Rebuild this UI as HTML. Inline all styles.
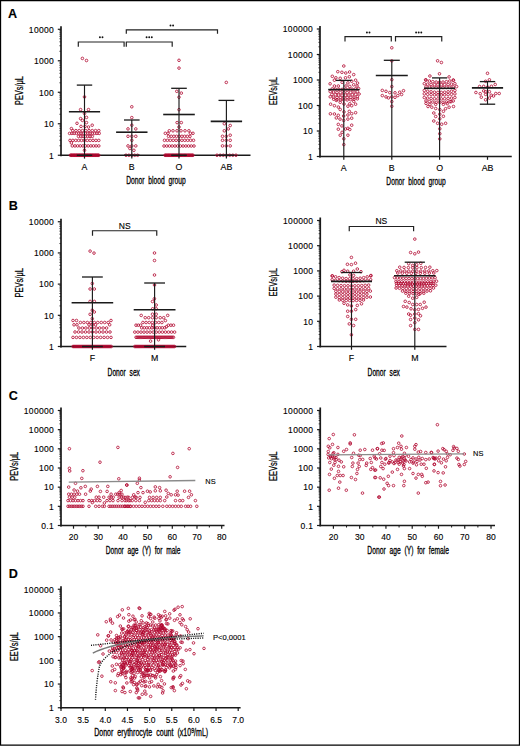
<!DOCTYPE html>
<html><head><meta charset="utf-8"><title>Figure</title>
<style>
html,body{margin:0;padding:0;background:#fff}
body{width:520px;height:746px;overflow:hidden;position:relative}
svg{position:absolute;left:0;top:0;display:block}
text{font-family:"Liberation Sans",sans-serif;fill:#000;stroke:#000;stroke-width:0.12}
.t{stroke:#000;stroke-width:0.3}
.t2{stroke:#000;stroke-width:0.25}
</style></head><body>
<svg width="520" height="746" viewBox="0 0 520 746">
<rect x="0" y="0" width="520" height="746" fill="#fff"/>
<g><line x1="61" y1="26.29" x2="61" y2="156.15" stroke="#1a1a1a" stroke-width="1.7"/><line x1="60.2" y1="155.25" x2="250.5" y2="155.25" stroke="#1a1a1a" stroke-width="1.7"/><line x1="320" y1="26" x2="320" y2="157.4" stroke="#1a1a1a" stroke-width="1.7"/><line x1="319.2" y1="156.5" x2="511.75" y2="156.5" stroke="#1a1a1a" stroke-width="1.7"/><line x1="61" y1="218.74" x2="61" y2="347.4" stroke="#1a1a1a" stroke-width="1.7"/><line x1="60.2" y1="346.5" x2="186.25" y2="346.5" stroke="#1a1a1a" stroke-width="1.7"/><line x1="320.25" y1="217.5" x2="320.25" y2="347.4" stroke="#1a1a1a" stroke-width="1.7"/><line x1="319.45" y1="346.5" x2="446.5" y2="346.5" stroke="#1a1a1a" stroke-width="1.7"/><line x1="61" y1="407.48" x2="61" y2="526.4" stroke="#1a1a1a" stroke-width="1.7"/><line x1="60.2" y1="525.5" x2="224.5" y2="525.5" stroke="#1a1a1a" stroke-width="1.7"/><line x1="320.25" y1="407.48" x2="320.25" y2="526.4" stroke="#1a1a1a" stroke-width="1.7"/><line x1="319.45" y1="525.5" x2="495" y2="525.5" stroke="#1a1a1a" stroke-width="1.7"/><line x1="61" y1="586.25" x2="61" y2="708.65" stroke="#1a1a1a" stroke-width="1.7"/><line x1="60.2" y1="707.75" x2="240.6" y2="707.75" stroke="#1a1a1a" stroke-width="1.7"/></g>
<g fill="none" stroke="#b0062e" stroke-width="0.8"><circle cx="82.4" cy="58.4" r="1.3"/><circle cx="86.5" cy="60.5" r="1.3"/><circle cx="84.5" cy="96.9" r="1.3"/><circle cx="80.6" cy="109.6" r="1.3"/><circle cx="88.5" cy="109.6" r="1.3"/><circle cx="84.5" cy="113.4" r="1.3"/><circle cx="80.6" cy="118.6" r="1.3"/><circle cx="86.5" cy="117.4" r="1.3"/><circle cx="82.4" cy="120.4" r="1.3"/><circle cx="77" cy="123.3" r="1.3"/><circle cx="86.5" cy="122.6" r="1.3"/><circle cx="81" cy="126.4" r="1.3"/><circle cx="85" cy="126.4" r="1.3"/><circle cx="88.5" cy="127" r="1.3"/><circle cx="92.2" cy="125.2" r="1.3"/><circle cx="71.4" cy="128.6" r="1.3"/><circle cx="71.4" cy="142.9" r="1.3"/><circle cx="84.5" cy="150.3" r="1.3"/><circle cx="72.7" cy="130.6" r="1.3"/><circle cx="75.96" cy="130.6" r="1.3"/><circle cx="79.22" cy="130.6" r="1.3"/><circle cx="82.49" cy="130.6" r="1.3"/><circle cx="85.75" cy="130.6" r="1.3"/><circle cx="89.01" cy="130.6" r="1.3"/><circle cx="92.28" cy="130.6" r="1.3"/><circle cx="95.54" cy="130.6" r="1.3"/><circle cx="98.8" cy="130.6" r="1.3"/><circle cx="69.6" cy="133.4" r="1.3"/><circle cx="71.88" cy="133.4" r="1.3"/><circle cx="74.15" cy="133.4" r="1.3"/><circle cx="76.43" cy="133.4" r="1.3"/><circle cx="78.71" cy="133.4" r="1.3"/><circle cx="80.98" cy="133.4" r="1.3"/><circle cx="83.26" cy="133.4" r="1.3"/><circle cx="85.54" cy="133.4" r="1.3"/><circle cx="87.82" cy="133.4" r="1.3"/><circle cx="90.09" cy="133.4" r="1.3"/><circle cx="92.37" cy="133.4" r="1.3"/><circle cx="94.65" cy="133.4" r="1.3"/><circle cx="96.92" cy="133.4" r="1.3"/><circle cx="99.2" cy="133.4" r="1.3"/><circle cx="78.5" cy="136.4" r="1.3"/><circle cx="80.8" cy="136.4" r="1.3"/><circle cx="83.1" cy="136.4" r="1.3"/><circle cx="85.4" cy="136.4" r="1.3"/><circle cx="87.7" cy="136.4" r="1.3"/><circle cx="90" cy="136.4" r="1.3"/><circle cx="92.3" cy="136.4" r="1.3"/><circle cx="70" cy="140.4" r="1.3"/><circle cx="72.88" cy="140.4" r="1.3"/><circle cx="75.76" cy="140.4" r="1.3"/><circle cx="78.64" cy="140.4" r="1.3"/><circle cx="81.52" cy="140.4" r="1.3"/><circle cx="84.4" cy="140.4" r="1.3"/><circle cx="87.28" cy="140.4" r="1.3"/><circle cx="90.16" cy="140.4" r="1.3"/><circle cx="93.04" cy="140.4" r="1.3"/><circle cx="95.92" cy="140.4" r="1.3"/><circle cx="98.8" cy="140.4" r="1.3"/><circle cx="72.3" cy="145.9" r="1.3"/><circle cx="74.95" cy="145.9" r="1.3"/><circle cx="77.6" cy="145.9" r="1.3"/><circle cx="80.25" cy="145.9" r="1.3"/><circle cx="82.9" cy="145.9" r="1.3"/><circle cx="85.55" cy="145.9" r="1.3"/><circle cx="88.2" cy="145.9" r="1.3"/><circle cx="90.85" cy="145.9" r="1.3"/><circle cx="93.5" cy="145.9" r="1.3"/><circle cx="96.15" cy="145.9" r="1.3"/><circle cx="98.8" cy="145.9" r="1.3"/><circle cx="70.4" cy="155.25" r="1.3"/><circle cx="71.13" cy="155.25" r="1.3"/><circle cx="71.86" cy="155.25" r="1.3"/><circle cx="72.58" cy="155.25" r="1.3"/><circle cx="73.31" cy="155.25" r="1.3"/><circle cx="74.04" cy="155.25" r="1.3"/><circle cx="74.77" cy="155.25" r="1.3"/><circle cx="75.5" cy="155.25" r="1.3"/><circle cx="76.23" cy="155.25" r="1.3"/><circle cx="76.95" cy="155.25" r="1.3"/><circle cx="77.68" cy="155.25" r="1.3"/><circle cx="78.41" cy="155.25" r="1.3"/><circle cx="79.14" cy="155.25" r="1.3"/><circle cx="79.87" cy="155.25" r="1.3"/><circle cx="80.59" cy="155.25" r="1.3"/><circle cx="81.32" cy="155.25" r="1.3"/><circle cx="82.05" cy="155.25" r="1.3"/><circle cx="82.78" cy="155.25" r="1.3"/><circle cx="83.51" cy="155.25" r="1.3"/><circle cx="84.24" cy="155.25" r="1.3"/><circle cx="84.96" cy="155.25" r="1.3"/><circle cx="85.69" cy="155.25" r="1.3"/><circle cx="86.42" cy="155.25" r="1.3"/><circle cx="87.15" cy="155.25" r="1.3"/><circle cx="87.88" cy="155.25" r="1.3"/><circle cx="88.61" cy="155.25" r="1.3"/><circle cx="89.33" cy="155.25" r="1.3"/><circle cx="90.06" cy="155.25" r="1.3"/><circle cx="90.79" cy="155.25" r="1.3"/><circle cx="91.52" cy="155.25" r="1.3"/><circle cx="92.25" cy="155.25" r="1.3"/><circle cx="92.97" cy="155.25" r="1.3"/><circle cx="93.7" cy="155.25" r="1.3"/><circle cx="94.43" cy="155.25" r="1.3"/><circle cx="95.16" cy="155.25" r="1.3"/><circle cx="95.89" cy="155.25" r="1.3"/><circle cx="96.62" cy="155.25" r="1.3"/><circle cx="97.34" cy="155.25" r="1.3"/><circle cx="98.07" cy="155.25" r="1.3"/><circle cx="98.8" cy="155.25" r="1.3"/><circle cx="131.8" cy="106.8" r="1.3"/><circle cx="131.8" cy="117.6" r="1.3"/><circle cx="131.8" cy="125.2" r="1.3"/><circle cx="128" cy="128.9" r="1.3"/><circle cx="135.8" cy="128.9" r="1.3"/><circle cx="131.8" cy="140.3" r="1.3"/><circle cx="129.9" cy="148.5" r="1.3"/><circle cx="133.9" cy="150.3" r="1.3"/><circle cx="128" cy="136.3" r="1.3"/><circle cx="131.8" cy="136.3" r="1.3"/><circle cx="135.8" cy="136.3" r="1.3"/><circle cx="128" cy="145.9" r="1.3"/><circle cx="131.8" cy="145.9" r="1.3"/><circle cx="135.8" cy="145.9" r="1.3"/><circle cx="126" cy="155.25" r="1.3"/><circle cx="128.9" cy="155.25" r="1.3"/><circle cx="131.8" cy="155.25" r="1.3"/><circle cx="134.7" cy="155.25" r="1.3"/><circle cx="137.6" cy="155.25" r="1.3"/><circle cx="179" cy="60.3" r="1.3"/><circle cx="179" cy="68.1" r="1.3"/><circle cx="176.8" cy="91.3" r="1.3"/><circle cx="181.3" cy="93.1" r="1.3"/><circle cx="179" cy="97.2" r="1.3"/><circle cx="179" cy="109.7" r="1.3"/><circle cx="177.1" cy="122.6" r="1.3"/><circle cx="181.3" cy="122.6" r="1.3"/><circle cx="179" cy="127" r="1.3"/><circle cx="165.3" cy="133.3" r="1.3"/><circle cx="168" cy="133.3" r="1.3"/><circle cx="190.4" cy="133.3" r="1.3"/><circle cx="193" cy="133.3" r="1.3"/><circle cx="169.3" cy="130.8" r="1.3"/><circle cx="173" cy="130.8" r="1.3"/><circle cx="177" cy="130.8" r="1.3"/><circle cx="181" cy="130.8" r="1.3"/><circle cx="185" cy="130.8" r="1.3"/><circle cx="188.9" cy="130.8" r="1.3"/><circle cx="168.5" cy="136.3" r="1.3"/><circle cx="171.19" cy="136.3" r="1.3"/><circle cx="173.88" cy="136.3" r="1.3"/><circle cx="176.56" cy="136.3" r="1.3"/><circle cx="179.25" cy="136.3" r="1.3"/><circle cx="181.94" cy="136.3" r="1.3"/><circle cx="184.62" cy="136.3" r="1.3"/><circle cx="187.31" cy="136.3" r="1.3"/><circle cx="190" cy="136.3" r="1.3"/><circle cx="164.5" cy="140.3" r="1.3"/><circle cx="167.4" cy="140.3" r="1.3"/><circle cx="170.3" cy="140.3" r="1.3"/><circle cx="173.2" cy="140.3" r="1.3"/><circle cx="176.1" cy="140.3" r="1.3"/><circle cx="179" cy="140.3" r="1.3"/><circle cx="181.9" cy="140.3" r="1.3"/><circle cx="184.8" cy="140.3" r="1.3"/><circle cx="187.7" cy="140.3" r="1.3"/><circle cx="190.6" cy="140.3" r="1.3"/><circle cx="193.5" cy="140.3" r="1.3"/><circle cx="164" cy="146" r="1.3"/><circle cx="166.73" cy="146" r="1.3"/><circle cx="169.45" cy="146" r="1.3"/><circle cx="172.18" cy="146" r="1.3"/><circle cx="174.91" cy="146" r="1.3"/><circle cx="177.64" cy="146" r="1.3"/><circle cx="180.36" cy="146" r="1.3"/><circle cx="183.09" cy="146" r="1.3"/><circle cx="185.82" cy="146" r="1.3"/><circle cx="188.55" cy="146" r="1.3"/><circle cx="191.27" cy="146" r="1.3"/><circle cx="194" cy="146" r="1.3"/><circle cx="165" cy="155.25" r="1.3"/><circle cx="165.8" cy="155.25" r="1.3"/><circle cx="166.6" cy="155.25" r="1.3"/><circle cx="167.4" cy="155.25" r="1.3"/><circle cx="168.2" cy="155.25" r="1.3"/><circle cx="169" cy="155.25" r="1.3"/><circle cx="169.8" cy="155.25" r="1.3"/><circle cx="170.6" cy="155.25" r="1.3"/><circle cx="171.4" cy="155.25" r="1.3"/><circle cx="172.2" cy="155.25" r="1.3"/><circle cx="173" cy="155.25" r="1.3"/><circle cx="173.8" cy="155.25" r="1.3"/><circle cx="174.6" cy="155.25" r="1.3"/><circle cx="175.4" cy="155.25" r="1.3"/><circle cx="176.2" cy="155.25" r="1.3"/><circle cx="177" cy="155.25" r="1.3"/><circle cx="177.8" cy="155.25" r="1.3"/><circle cx="178.6" cy="155.25" r="1.3"/><circle cx="179.4" cy="155.25" r="1.3"/><circle cx="180.2" cy="155.25" r="1.3"/><circle cx="181" cy="155.25" r="1.3"/><circle cx="181.8" cy="155.25" r="1.3"/><circle cx="182.6" cy="155.25" r="1.3"/><circle cx="183.4" cy="155.25" r="1.3"/><circle cx="184.2" cy="155.25" r="1.3"/><circle cx="185" cy="155.25" r="1.3"/><circle cx="185.8" cy="155.25" r="1.3"/><circle cx="186.6" cy="155.25" r="1.3"/><circle cx="187.4" cy="155.25" r="1.3"/><circle cx="188.2" cy="155.25" r="1.3"/><circle cx="189" cy="155.25" r="1.3"/><circle cx="189.8" cy="155.25" r="1.3"/><circle cx="190.6" cy="155.25" r="1.3"/><circle cx="191.4" cy="155.25" r="1.3"/><circle cx="192.2" cy="155.25" r="1.3"/><circle cx="193" cy="155.25" r="1.3"/><circle cx="226.3" cy="82.4" r="1.3"/><circle cx="224.3" cy="123.7" r="1.3"/><circle cx="230.2" cy="125.5" r="1.3"/><circle cx="224.3" cy="130.8" r="1.3"/><circle cx="228.3" cy="128.9" r="1.3"/><circle cx="230.2" cy="135.2" r="1.3"/><circle cx="222.5" cy="136.3" r="1.3"/><circle cx="226.3" cy="136.3" r="1.3"/><circle cx="222.5" cy="140.3" r="1.3"/><circle cx="226.3" cy="140.3" r="1.3"/><circle cx="230.2" cy="140.3" r="1.3"/><circle cx="222.5" cy="145.9" r="1.3"/><circle cx="226.3" cy="145.9" r="1.3"/><circle cx="230.2" cy="145.9" r="1.3"/><circle cx="217" cy="155.25" r="1.3"/><circle cx="220.17" cy="155.25" r="1.3"/><circle cx="223.33" cy="155.25" r="1.3"/><circle cx="226.5" cy="155.25" r="1.3"/><circle cx="229.67" cy="155.25" r="1.3"/><circle cx="232.83" cy="155.25" r="1.3"/><circle cx="236" cy="155.25" r="1.3"/><circle cx="343.8" cy="66" r="1.3"/><circle cx="337.8" cy="71.7" r="1.3"/><circle cx="341.9" cy="72.3" r="1.3"/><circle cx="345.8" cy="73" r="1.3"/><circle cx="349.6" cy="72" r="1.3"/><circle cx="353.7" cy="74.6" r="1.3"/><circle cx="332.3" cy="76.3" r="1.3"/><circle cx="335.9" cy="77.8" r="1.3"/><circle cx="340.2" cy="78.3" r="1.3"/><circle cx="345.5" cy="77.8" r="1.3"/><circle cx="349.3" cy="76.8" r="1.3"/><circle cx="334.4" cy="80.2" r="1.3"/><circle cx="355.6" cy="80.2" r="1.3"/><circle cx="342.1" cy="82.3" r="1.3"/><circle cx="347.9" cy="82.9" r="1.3"/><circle cx="351.7" cy="81.2" r="1.3"/><circle cx="330.1" cy="83.8" r="1.3"/><circle cx="357.5" cy="83.1" r="1.3"/><circle cx="353.7" cy="84.8" r="1.3"/><circle cx="334.4" cy="86" r="1.3"/><circle cx="338.3" cy="86" r="1.3"/><circle cx="346" cy="86" r="1.3"/><circle cx="349.8" cy="86.4" r="1.3"/><circle cx="357" cy="86" r="1.3"/><circle cx="332.25" cy="88.89" r="1.3"/><circle cx="335.55" cy="89.14" r="1.3"/><circle cx="338.85" cy="89.31" r="1.3"/><circle cx="342.15" cy="89.39" r="1.3"/><circle cx="345.45" cy="89.39" r="1.3"/><circle cx="348.75" cy="89.31" r="1.3"/><circle cx="352.05" cy="89.14" r="1.3"/><circle cx="355.35" cy="88.89" r="1.3"/><circle cx="358.65" cy="88.6" r="1.3"/><circle cx="330.2" cy="91.61" r="1.3"/><circle cx="333.6" cy="92.05" r="1.3"/><circle cx="337" cy="92.35" r="1.3"/><circle cx="340.4" cy="92.54" r="1.3"/><circle cx="343.8" cy="92.6" r="1.3"/><circle cx="347.2" cy="92.54" r="1.3"/><circle cx="350.6" cy="92.35" r="1.3"/><circle cx="354" cy="92.05" r="1.3"/><circle cx="357.4" cy="91.61" r="1.3"/><circle cx="331.9" cy="94.39" r="1.3"/><circle cx="335.3" cy="94.79" r="1.3"/><circle cx="338.7" cy="95.05" r="1.3"/><circle cx="342.1" cy="95.18" r="1.3"/><circle cx="345.5" cy="95.18" r="1.3"/><circle cx="348.9" cy="95.05" r="1.3"/><circle cx="352.3" cy="94.79" r="1.3"/><circle cx="355.7" cy="94.39" r="1.3"/><circle cx="359.1" cy="94" r="1.3"/><circle cx="330.2" cy="96.81" r="1.3"/><circle cx="333.6" cy="97.25" r="1.3"/><circle cx="337" cy="97.55" r="1.3"/><circle cx="340.4" cy="97.74" r="1.3"/><circle cx="343.8" cy="97.8" r="1.3"/><circle cx="347.2" cy="97.74" r="1.3"/><circle cx="350.6" cy="97.55" r="1.3"/><circle cx="354" cy="97.25" r="1.3"/><circle cx="357.4" cy="96.81" r="1.3"/><circle cx="333.6" cy="99.2" r="1.3"/><circle cx="337" cy="99.64" r="1.3"/><circle cx="340.4" cy="99.91" r="1.3"/><circle cx="343.8" cy="100" r="1.3"/><circle cx="347.2" cy="99.91" r="1.3"/><circle cx="350.6" cy="99.64" r="1.3"/><circle cx="354" cy="99.2" r="1.3"/><circle cx="357.4" cy="98.8" r="1.3"/><circle cx="336.3" cy="100.4" r="1.3"/><circle cx="340.2" cy="102.3" r="1.3"/><circle cx="353.7" cy="101.3" r="1.3"/><circle cx="330.6" cy="104.2" r="1.3"/><circle cx="334.4" cy="105.7" r="1.3"/><circle cx="338.3" cy="107.1" r="1.3"/><circle cx="340.2" cy="109.5" r="1.3"/><circle cx="347.9" cy="106.2" r="1.3"/><circle cx="349.8" cy="103.8" r="1.3"/><circle cx="351.7" cy="105.7" r="1.3"/><circle cx="355.6" cy="104.2" r="1.3"/><circle cx="344" cy="111.9" r="1.3"/><circle cx="330.4" cy="113.8" r="1.3"/><circle cx="334.4" cy="114" r="1.3"/><circle cx="338.3" cy="115.3" r="1.3"/><circle cx="336.3" cy="117.9" r="1.3"/><circle cx="340" cy="119.1" r="1.3"/><circle cx="343.6" cy="116" r="1.3"/><circle cx="347.9" cy="115" r="1.3"/><circle cx="349.3" cy="111.4" r="1.3"/><circle cx="351.7" cy="113.7" r="1.3"/><circle cx="355.6" cy="112.7" r="1.3"/><circle cx="343.6" cy="120.4" r="1.3"/><circle cx="347.9" cy="119.1" r="1.3"/><circle cx="351.7" cy="118.2" r="1.3"/><circle cx="344" cy="104" r="1.3"/><circle cx="338.3" cy="124.4" r="1.3"/><circle cx="341.9" cy="125.9" r="1.3"/><circle cx="351.7" cy="125.2" r="1.3"/><circle cx="338.3" cy="129.2" r="1.3"/><circle cx="345.5" cy="129" r="1.3"/><circle cx="347.9" cy="128.3" r="1.3"/><circle cx="349.8" cy="129.5" r="1.3"/><circle cx="342.1" cy="132.3" r="1.3"/><circle cx="340.2" cy="135.2" r="1.3"/><circle cx="347.9" cy="135.2" r="1.3"/><circle cx="343.8" cy="138.8" r="1.3"/><circle cx="343.8" cy="144.6" r="1.3"/><circle cx="391.8" cy="47.8" r="1.3"/><circle cx="391.8" cy="60.9" r="1.3"/><circle cx="391.8" cy="79.7" r="1.3"/><circle cx="391.8" cy="86.6" r="1.3"/><circle cx="382.3" cy="90.4" r="1.3"/><circle cx="386" cy="91.3" r="1.3"/><circle cx="389.8" cy="92.6" r="1.3"/><circle cx="395" cy="92.8" r="1.3"/><circle cx="399.7" cy="92.2" r="1.3"/><circle cx="403.5" cy="90.7" r="1.3"/><circle cx="401.6" cy="94.5" r="1.3"/><circle cx="397.8" cy="95.6" r="1.3"/><circle cx="395" cy="97.3" r="1.3"/><circle cx="382.3" cy="95.6" r="1.3"/><circle cx="386" cy="96.9" r="1.3"/><circle cx="388.5" cy="97.9" r="1.3"/><circle cx="391.8" cy="96.9" r="1.3"/><circle cx="391.8" cy="101.6" r="1.3"/><circle cx="391.8" cy="106.3" r="1.3"/><circle cx="437.6" cy="60.8" r="1.3"/><circle cx="441.4" cy="62.5" r="1.3"/><circle cx="439.5" cy="73.8" r="1.3"/><circle cx="429.9" cy="76" r="1.3"/><circle cx="449.1" cy="76.9" r="1.3"/><circle cx="425.6" cy="79.8" r="1.3"/><circle cx="453.5" cy="80.3" r="1.3"/><circle cx="426" cy="80.06" r="1.3"/><circle cx="429.4" cy="81" r="1.3"/><circle cx="432.8" cy="81.67" r="1.3"/><circle cx="436.2" cy="82.07" r="1.3"/><circle cx="439.6" cy="82.2" r="1.3"/><circle cx="443" cy="82.07" r="1.3"/><circle cx="446.4" cy="81.67" r="1.3"/><circle cx="449.8" cy="81" r="1.3"/><circle cx="453.2" cy="80.06" r="1.3"/><circle cx="424.3" cy="83.7" r="1.3"/><circle cx="427.7" cy="84.14" r="1.3"/><circle cx="431.1" cy="84.46" r="1.3"/><circle cx="434.5" cy="84.68" r="1.3"/><circle cx="437.9" cy="84.79" r="1.3"/><circle cx="441.3" cy="84.79" r="1.3"/><circle cx="444.7" cy="84.68" r="1.3"/><circle cx="448.1" cy="84.46" r="1.3"/><circle cx="451.5" cy="84.14" r="1.3"/><circle cx="454.9" cy="83.7" r="1.3"/><circle cx="426" cy="86.88" r="1.3"/><circle cx="429.4" cy="87.19" r="1.3"/><circle cx="432.8" cy="87.42" r="1.3"/><circle cx="436.2" cy="87.55" r="1.3"/><circle cx="439.6" cy="87.6" r="1.3"/><circle cx="443" cy="87.55" r="1.3"/><circle cx="446.4" cy="87.42" r="1.3"/><circle cx="449.8" cy="87.19" r="1.3"/><circle cx="453.2" cy="86.88" r="1.3"/><circle cx="456.6" cy="86.6" r="1.3"/><circle cx="424.3" cy="90.45" r="1.3"/><circle cx="427.7" cy="91.22" r="1.3"/><circle cx="431.1" cy="91.8" r="1.3"/><circle cx="434.5" cy="92.18" r="1.3"/><circle cx="437.9" cy="92.38" r="1.3"/><circle cx="441.3" cy="92.38" r="1.3"/><circle cx="444.7" cy="92.18" r="1.3"/><circle cx="448.1" cy="91.8" r="1.3"/><circle cx="451.5" cy="91.22" r="1.3"/><circle cx="454.9" cy="90.45" r="1.3"/><circle cx="424.3" cy="93.83" r="1.3"/><circle cx="427.7" cy="94.29" r="1.3"/><circle cx="431.1" cy="94.64" r="1.3"/><circle cx="434.5" cy="94.87" r="1.3"/><circle cx="437.9" cy="94.99" r="1.3"/><circle cx="441.3" cy="94.99" r="1.3"/><circle cx="444.7" cy="94.87" r="1.3"/><circle cx="448.1" cy="94.64" r="1.3"/><circle cx="451.5" cy="94.29" r="1.3"/><circle cx="454.9" cy="93.83" r="1.3"/><circle cx="424.3" cy="97.53" r="1.3"/><circle cx="427.7" cy="98.07" r="1.3"/><circle cx="431.1" cy="98.48" r="1.3"/><circle cx="434.5" cy="98.75" r="1.3"/><circle cx="437.9" cy="98.88" r="1.3"/><circle cx="441.3" cy="98.88" r="1.3"/><circle cx="444.7" cy="98.75" r="1.3"/><circle cx="448.1" cy="98.48" r="1.3"/><circle cx="451.5" cy="98.07" r="1.3"/><circle cx="454.9" cy="97.53" r="1.3"/><circle cx="426" cy="100.98" r="1.3"/><circle cx="429.4" cy="101.6" r="1.3"/><circle cx="432.8" cy="102.05" r="1.3"/><circle cx="436.2" cy="102.31" r="1.3"/><circle cx="439.6" cy="102.4" r="1.3"/><circle cx="443" cy="102.31" r="1.3"/><circle cx="446.4" cy="102.05" r="1.3"/><circle cx="449.8" cy="101.6" r="1.3"/><circle cx="453.2" cy="100.98" r="1.3"/><circle cx="426" cy="103.4" r="1.3"/><circle cx="429.9" cy="104.3" r="1.3"/><circle cx="428" cy="106.5" r="1.3"/><circle cx="431.8" cy="107.2" r="1.3"/><circle cx="435.7" cy="104.3" r="1.3"/><circle cx="435.7" cy="108.5" r="1.3"/><circle cx="443.4" cy="104.3" r="1.3"/><circle cx="447.2" cy="103.7" r="1.3"/><circle cx="451" cy="101.7" r="1.3"/><circle cx="453.5" cy="106.5" r="1.3"/><circle cx="449.1" cy="107.2" r="1.3"/><circle cx="445.6" cy="108.7" r="1.3"/><circle cx="443.4" cy="111.3" r="1.3"/><circle cx="439.8" cy="109.6" r="1.3"/><circle cx="433.8" cy="113" r="1.3"/><circle cx="435.7" cy="116.5" r="1.3"/><circle cx="439.8" cy="114.2" r="1.3"/><circle cx="443.4" cy="116.3" r="1.3"/><circle cx="439.8" cy="118.8" r="1.3"/><circle cx="433.8" cy="121" r="1.3"/><circle cx="437.6" cy="123.3" r="1.3"/><circle cx="441.7" cy="124.2" r="1.3"/><circle cx="445.6" cy="123.3" r="1.3"/><circle cx="439.8" cy="128.8" r="1.3"/><circle cx="439.8" cy="133.7" r="1.3"/><circle cx="439.8" cy="138.9" r="1.3"/><circle cx="487.5" cy="73.3" r="1.3"/><circle cx="489.4" cy="79.8" r="1.3"/><circle cx="485.6" cy="81.3" r="1.3"/><circle cx="495.2" cy="84.5" r="1.3"/><circle cx="479.6" cy="86.5" r="1.3"/><circle cx="483.7" cy="86.3" r="1.3"/><circle cx="487.7" cy="87.1" r="1.3"/><circle cx="491.4" cy="86.3" r="1.3"/><circle cx="483.7" cy="90.9" r="1.3"/><circle cx="485.6" cy="91.7" r="1.3"/><circle cx="489.4" cy="91.7" r="1.3"/><circle cx="475.9" cy="92.5" r="1.3"/><circle cx="480.2" cy="93.7" r="1.3"/><circle cx="485.6" cy="94.4" r="1.3"/><circle cx="491.2" cy="95.2" r="1.3"/><circle cx="493.5" cy="96" r="1.3"/><circle cx="495.8" cy="93.5" r="1.3"/><circle cx="499.2" cy="93.5" r="1.3"/><circle cx="481.3" cy="97.2" r="1.3"/><circle cx="489.4" cy="98.1" r="1.3"/><circle cx="485.6" cy="99.8" r="1.3"/><circle cx="90.1" cy="251.1" r="1.3"/><circle cx="94" cy="253.1" r="1.3"/><circle cx="92.3" cy="283.5" r="1.3"/><circle cx="90.1" cy="289" r="1.3"/><circle cx="94.3" cy="289" r="1.3"/><circle cx="90.1" cy="301.4" r="1.3"/><circle cx="94.3" cy="301.4" r="1.3"/><circle cx="92.3" cy="310.2" r="1.3"/><circle cx="94.3" cy="312" r="1.3"/><circle cx="90.1" cy="314.3" r="1.3"/><circle cx="92.3" cy="318.7" r="1.3"/><circle cx="73" cy="320.5" r="1.3"/><circle cx="76.5" cy="320.5" r="1.3"/><circle cx="111" cy="320.5" r="1.3"/><circle cx="80.4" cy="322.5" r="1.3"/><circle cx="83.88" cy="322.5" r="1.3"/><circle cx="87.35" cy="322.5" r="1.3"/><circle cx="90.83" cy="322.5" r="1.3"/><circle cx="94.3" cy="322.5" r="1.3"/><circle cx="97.78" cy="322.5" r="1.3"/><circle cx="101.25" cy="322.5" r="1.3"/><circle cx="104.72" cy="322.5" r="1.3"/><circle cx="108.2" cy="322.5" r="1.3"/><circle cx="74" cy="324.8" r="1.3"/><circle cx="77" cy="324.8" r="1.3"/><circle cx="89" cy="324.8" r="1.3"/><circle cx="92.3" cy="324.8" r="1.3"/><circle cx="95.5" cy="324.8" r="1.3"/><circle cx="109.7" cy="324.8" r="1.3"/><circle cx="78.9" cy="328" r="1.3"/><circle cx="82.36" cy="328" r="1.3"/><circle cx="85.83" cy="328" r="1.3"/><circle cx="89.29" cy="328" r="1.3"/><circle cx="92.75" cy="328" r="1.3"/><circle cx="96.21" cy="328" r="1.3"/><circle cx="99.67" cy="328" r="1.3"/><circle cx="103.14" cy="328" r="1.3"/><circle cx="106.6" cy="328" r="1.3"/><circle cx="75" cy="332" r="1.3"/><circle cx="78.5" cy="332" r="1.3"/><circle cx="82" cy="332" r="1.3"/><circle cx="85.5" cy="332" r="1.3"/><circle cx="89" cy="332" r="1.3"/><circle cx="92.5" cy="332" r="1.3"/><circle cx="96" cy="332" r="1.3"/><circle cx="99.5" cy="332" r="1.3"/><circle cx="103" cy="332" r="1.3"/><circle cx="106.5" cy="332" r="1.3"/><circle cx="110" cy="332" r="1.3"/><circle cx="73" cy="337.4" r="1.3"/><circle cx="76.45" cy="337.4" r="1.3"/><circle cx="79.91" cy="337.4" r="1.3"/><circle cx="83.36" cy="337.4" r="1.3"/><circle cx="86.82" cy="337.4" r="1.3"/><circle cx="90.27" cy="337.4" r="1.3"/><circle cx="93.73" cy="337.4" r="1.3"/><circle cx="97.18" cy="337.4" r="1.3"/><circle cx="100.64" cy="337.4" r="1.3"/><circle cx="104.09" cy="337.4" r="1.3"/><circle cx="107.55" cy="337.4" r="1.3"/><circle cx="111" cy="337.4" r="1.3"/><circle cx="73" cy="346.5" r="1.3"/><circle cx="73.98" cy="346.5" r="1.3"/><circle cx="74.96" cy="346.5" r="1.3"/><circle cx="75.95" cy="346.5" r="1.3"/><circle cx="76.93" cy="346.5" r="1.3"/><circle cx="77.91" cy="346.5" r="1.3"/><circle cx="78.89" cy="346.5" r="1.3"/><circle cx="79.87" cy="346.5" r="1.3"/><circle cx="80.86" cy="346.5" r="1.3"/><circle cx="81.84" cy="346.5" r="1.3"/><circle cx="82.82" cy="346.5" r="1.3"/><circle cx="83.8" cy="346.5" r="1.3"/><circle cx="84.78" cy="346.5" r="1.3"/><circle cx="85.77" cy="346.5" r="1.3"/><circle cx="86.75" cy="346.5" r="1.3"/><circle cx="87.73" cy="346.5" r="1.3"/><circle cx="88.71" cy="346.5" r="1.3"/><circle cx="89.69" cy="346.5" r="1.3"/><circle cx="90.68" cy="346.5" r="1.3"/><circle cx="91.66" cy="346.5" r="1.3"/><circle cx="92.64" cy="346.5" r="1.3"/><circle cx="93.62" cy="346.5" r="1.3"/><circle cx="94.61" cy="346.5" r="1.3"/><circle cx="95.59" cy="346.5" r="1.3"/><circle cx="96.57" cy="346.5" r="1.3"/><circle cx="97.55" cy="346.5" r="1.3"/><circle cx="98.53" cy="346.5" r="1.3"/><circle cx="99.52" cy="346.5" r="1.3"/><circle cx="100.5" cy="346.5" r="1.3"/><circle cx="101.48" cy="346.5" r="1.3"/><circle cx="102.46" cy="346.5" r="1.3"/><circle cx="103.44" cy="346.5" r="1.3"/><circle cx="104.43" cy="346.5" r="1.3"/><circle cx="105.41" cy="346.5" r="1.3"/><circle cx="106.39" cy="346.5" r="1.3"/><circle cx="107.37" cy="346.5" r="1.3"/><circle cx="108.35" cy="346.5" r="1.3"/><circle cx="109.34" cy="346.5" r="1.3"/><circle cx="110.32" cy="346.5" r="1.3"/><circle cx="111.3" cy="346.5" r="1.3"/><circle cx="154.5" cy="253" r="1.3"/><circle cx="154.5" cy="260.5" r="1.3"/><circle cx="154.5" cy="275" r="1.3"/><circle cx="154.5" cy="285" r="1.3"/><circle cx="154.4" cy="298.7" r="1.3"/><circle cx="152.5" cy="301.5" r="1.3"/><circle cx="156.2" cy="305" r="1.3"/><circle cx="152.7" cy="308.8" r="1.3"/><circle cx="156.2" cy="308.8" r="1.3"/><circle cx="152.5" cy="314.2" r="1.3"/><circle cx="156.2" cy="314.2" r="1.3"/><circle cx="141.2" cy="315.4" r="1.3"/><circle cx="167.7" cy="315.4" r="1.3"/><circle cx="165.4" cy="320.6" r="1.3"/><circle cx="166.5" cy="326.7" r="1.3"/><circle cx="150.6" cy="341.1" r="1.3"/><circle cx="158.5" cy="339.8" r="1.3"/><circle cx="145.2" cy="317.7" r="1.3"/><circle cx="148.7" cy="317.7" r="1.3"/><circle cx="152.5" cy="317.7" r="1.3"/><circle cx="156.2" cy="317.7" r="1.3"/><circle cx="160.2" cy="317.7" r="1.3"/><circle cx="163.7" cy="317.7" r="1.3"/><circle cx="142.9" cy="322.5" r="1.3"/><circle cx="146.07" cy="322.5" r="1.3"/><circle cx="149.23" cy="322.5" r="1.3"/><circle cx="152.4" cy="322.5" r="1.3"/><circle cx="155.57" cy="322.5" r="1.3"/><circle cx="158.73" cy="322.5" r="1.3"/><circle cx="161.9" cy="322.5" r="1.3"/><circle cx="136" cy="325.2" r="1.3"/><circle cx="138.3" cy="325.2" r="1.3"/><circle cx="140.6" cy="325.2" r="1.3"/><circle cx="152.7" cy="325.2" r="1.3"/><circle cx="168.3" cy="325.2" r="1.3"/><circle cx="170.9" cy="325.2" r="1.3"/><circle cx="173.5" cy="325.2" r="1.3"/><circle cx="141.7" cy="327.8" r="1.3"/><circle cx="144.27" cy="327.8" r="1.3"/><circle cx="146.83" cy="327.8" r="1.3"/><circle cx="149.4" cy="327.8" r="1.3"/><circle cx="151.97" cy="327.8" r="1.3"/><circle cx="154.53" cy="327.8" r="1.3"/><circle cx="157.1" cy="327.8" r="1.3"/><circle cx="159.67" cy="327.8" r="1.3"/><circle cx="162.23" cy="327.8" r="1.3"/><circle cx="164.8" cy="327.8" r="1.3"/><circle cx="134.8" cy="332.1" r="1.3"/><circle cx="137.86" cy="332.1" r="1.3"/><circle cx="140.92" cy="332.1" r="1.3"/><circle cx="143.98" cy="332.1" r="1.3"/><circle cx="147.05" cy="332.1" r="1.3"/><circle cx="150.11" cy="332.1" r="1.3"/><circle cx="153.17" cy="332.1" r="1.3"/><circle cx="156.23" cy="332.1" r="1.3"/><circle cx="159.29" cy="332.1" r="1.3"/><circle cx="162.35" cy="332.1" r="1.3"/><circle cx="165.42" cy="332.1" r="1.3"/><circle cx="168.48" cy="332.1" r="1.3"/><circle cx="171.54" cy="332.1" r="1.3"/><circle cx="174.6" cy="332.1" r="1.3"/><circle cx="136" cy="337.3" r="1.3"/><circle cx="137.14" cy="337.3" r="1.3"/><circle cx="138.27" cy="337.3" r="1.3"/><circle cx="139.41" cy="337.3" r="1.3"/><circle cx="140.55" cy="337.3" r="1.3"/><circle cx="141.68" cy="337.3" r="1.3"/><circle cx="142.82" cy="337.3" r="1.3"/><circle cx="143.95" cy="337.3" r="1.3"/><circle cx="145.09" cy="337.3" r="1.3"/><circle cx="146.23" cy="337.3" r="1.3"/><circle cx="147.36" cy="337.3" r="1.3"/><circle cx="148.5" cy="337.3" r="1.3"/><circle cx="149.64" cy="337.3" r="1.3"/><circle cx="150.77" cy="337.3" r="1.3"/><circle cx="151.91" cy="337.3" r="1.3"/><circle cx="153.05" cy="337.3" r="1.3"/><circle cx="154.18" cy="337.3" r="1.3"/><circle cx="155.32" cy="337.3" r="1.3"/><circle cx="156.45" cy="337.3" r="1.3"/><circle cx="157.59" cy="337.3" r="1.3"/><circle cx="158.73" cy="337.3" r="1.3"/><circle cx="159.86" cy="337.3" r="1.3"/><circle cx="161" cy="337.3" r="1.3"/><circle cx="162.14" cy="337.3" r="1.3"/><circle cx="163.27" cy="337.3" r="1.3"/><circle cx="164.41" cy="337.3" r="1.3"/><circle cx="165.55" cy="337.3" r="1.3"/><circle cx="166.68" cy="337.3" r="1.3"/><circle cx="167.82" cy="337.3" r="1.3"/><circle cx="168.95" cy="337.3" r="1.3"/><circle cx="170.09" cy="337.3" r="1.3"/><circle cx="171.23" cy="337.3" r="1.3"/><circle cx="172.36" cy="337.3" r="1.3"/><circle cx="173.5" cy="337.3" r="1.3"/><circle cx="134.8" cy="346.5" r="1.3"/><circle cx="135.82" cy="346.5" r="1.3"/><circle cx="136.84" cy="346.5" r="1.3"/><circle cx="137.86" cy="346.5" r="1.3"/><circle cx="138.88" cy="346.5" r="1.3"/><circle cx="139.9" cy="346.5" r="1.3"/><circle cx="140.92" cy="346.5" r="1.3"/><circle cx="141.94" cy="346.5" r="1.3"/><circle cx="142.96" cy="346.5" r="1.3"/><circle cx="143.98" cy="346.5" r="1.3"/><circle cx="145.01" cy="346.5" r="1.3"/><circle cx="146.03" cy="346.5" r="1.3"/><circle cx="147.05" cy="346.5" r="1.3"/><circle cx="148.07" cy="346.5" r="1.3"/><circle cx="149.09" cy="346.5" r="1.3"/><circle cx="150.11" cy="346.5" r="1.3"/><circle cx="151.13" cy="346.5" r="1.3"/><circle cx="152.15" cy="346.5" r="1.3"/><circle cx="153.17" cy="346.5" r="1.3"/><circle cx="154.19" cy="346.5" r="1.3"/><circle cx="155.21" cy="346.5" r="1.3"/><circle cx="156.23" cy="346.5" r="1.3"/><circle cx="157.25" cy="346.5" r="1.3"/><circle cx="158.27" cy="346.5" r="1.3"/><circle cx="159.29" cy="346.5" r="1.3"/><circle cx="160.31" cy="346.5" r="1.3"/><circle cx="161.33" cy="346.5" r="1.3"/><circle cx="162.35" cy="346.5" r="1.3"/><circle cx="163.37" cy="346.5" r="1.3"/><circle cx="164.39" cy="346.5" r="1.3"/><circle cx="165.42" cy="346.5" r="1.3"/><circle cx="166.44" cy="346.5" r="1.3"/><circle cx="167.46" cy="346.5" r="1.3"/><circle cx="168.48" cy="346.5" r="1.3"/><circle cx="169.5" cy="346.5" r="1.3"/><circle cx="170.52" cy="346.5" r="1.3"/><circle cx="171.54" cy="346.5" r="1.3"/><circle cx="172.56" cy="346.5" r="1.3"/><circle cx="173.58" cy="346.5" r="1.3"/><circle cx="174.6" cy="346.5" r="1.3"/><circle cx="351.4" cy="257.4" r="1.3"/><circle cx="347.4" cy="264.3" r="1.3"/><circle cx="351.4" cy="264.6" r="1.3"/><circle cx="355.5" cy="263.2" r="1.3"/><circle cx="357.3" cy="269" r="1.3"/><circle cx="341.9" cy="271.7" r="1.3"/><circle cx="344" cy="270.3" r="1.3"/><circle cx="347.7" cy="271.2" r="1.3"/><circle cx="353.6" cy="271.2" r="1.3"/><circle cx="361" cy="271.7" r="1.3"/><circle cx="349.9" cy="274.9" r="1.3"/><circle cx="353.6" cy="275.4" r="1.3"/><circle cx="332.4" cy="275.9" r="1.3"/><circle cx="371" cy="275.5" r="1.3"/><circle cx="332.15" cy="275.91" r="1.3"/><circle cx="335.65" cy="276.86" r="1.3"/><circle cx="339.15" cy="277.63" r="1.3"/><circle cx="342.65" cy="278.2" r="1.3"/><circle cx="346.15" cy="278.58" r="1.3"/><circle cx="349.65" cy="278.78" r="1.3"/><circle cx="353.15" cy="278.78" r="1.3"/><circle cx="356.65" cy="278.58" r="1.3"/><circle cx="360.15" cy="278.2" r="1.3"/><circle cx="363.65" cy="277.63" r="1.3"/><circle cx="367.15" cy="276.86" r="1.3"/><circle cx="370.65" cy="275.91" r="1.3"/><circle cx="332.15" cy="279.77" r="1.3"/><circle cx="335.65" cy="280.31" r="1.3"/><circle cx="339.15" cy="280.74" r="1.3"/><circle cx="342.65" cy="281.06" r="1.3"/><circle cx="346.15" cy="281.28" r="1.3"/><circle cx="349.65" cy="281.39" r="1.3"/><circle cx="353.15" cy="281.39" r="1.3"/><circle cx="356.65" cy="281.28" r="1.3"/><circle cx="360.15" cy="281.06" r="1.3"/><circle cx="363.65" cy="280.74" r="1.3"/><circle cx="367.15" cy="280.31" r="1.3"/><circle cx="370.65" cy="279.77" r="1.3"/><circle cx="334.15" cy="285.13" r="1.3"/><circle cx="337.6" cy="285.37" r="1.3"/><circle cx="341.05" cy="285.56" r="1.3"/><circle cx="344.5" cy="285.69" r="1.3"/><circle cx="347.95" cy="285.77" r="1.3"/><circle cx="351.4" cy="285.8" r="1.3"/><circle cx="354.85" cy="285.77" r="1.3"/><circle cx="358.3" cy="285.69" r="1.3"/><circle cx="361.75" cy="285.56" r="1.3"/><circle cx="365.2" cy="285.37" r="1.3"/><circle cx="368.65" cy="285.13" r="1.3"/><circle cx="334.15" cy="288.43" r="1.3"/><circle cx="337.6" cy="288.67" r="1.3"/><circle cx="341.05" cy="288.86" r="1.3"/><circle cx="344.5" cy="288.99" r="1.3"/><circle cx="347.95" cy="289.07" r="1.3"/><circle cx="351.4" cy="289.1" r="1.3"/><circle cx="354.85" cy="289.07" r="1.3"/><circle cx="358.3" cy="288.99" r="1.3"/><circle cx="361.75" cy="288.86" r="1.3"/><circle cx="365.2" cy="288.67" r="1.3"/><circle cx="368.65" cy="288.43" r="1.3"/><circle cx="335.85" cy="291.31" r="1.3"/><circle cx="339.3" cy="291.62" r="1.3"/><circle cx="342.75" cy="291.86" r="1.3"/><circle cx="346.2" cy="292.01" r="1.3"/><circle cx="349.65" cy="292.09" r="1.3"/><circle cx="353.1" cy="292.09" r="1.3"/><circle cx="356.55" cy="292.01" r="1.3"/><circle cx="360" cy="291.86" r="1.3"/><circle cx="363.45" cy="291.63" r="1.3"/><circle cx="366.9" cy="291.32" r="1.3"/><circle cx="370.35" cy="291.1" r="1.3"/><circle cx="335.88" cy="294.11" r="1.3"/><circle cx="339.32" cy="294.46" r="1.3"/><circle cx="342.77" cy="294.73" r="1.3"/><circle cx="346.23" cy="294.9" r="1.3"/><circle cx="349.68" cy="294.99" r="1.3"/><circle cx="353.12" cy="294.99" r="1.3"/><circle cx="356.57" cy="294.9" r="1.3"/><circle cx="360.02" cy="294.73" r="1.3"/><circle cx="363.48" cy="294.46" r="1.3"/><circle cx="366.93" cy="294.11" r="1.3"/><circle cx="335.85" cy="297.21" r="1.3"/><circle cx="339.3" cy="297.52" r="1.3"/><circle cx="342.75" cy="297.76" r="1.3"/><circle cx="346.2" cy="297.91" r="1.3"/><circle cx="349.65" cy="297.99" r="1.3"/><circle cx="353.1" cy="297.99" r="1.3"/><circle cx="356.55" cy="297.91" r="1.3"/><circle cx="360" cy="297.76" r="1.3"/><circle cx="363.45" cy="297.53" r="1.3"/><circle cx="366.9" cy="297.22" r="1.3"/><circle cx="370.35" cy="297" r="1.3"/><circle cx="339.32" cy="299.96" r="1.3"/><circle cx="342.77" cy="300.27" r="1.3"/><circle cx="346.22" cy="300.48" r="1.3"/><circle cx="349.68" cy="300.59" r="1.3"/><circle cx="353.12" cy="300.59" r="1.3"/><circle cx="356.57" cy="300.48" r="1.3"/><circle cx="360.02" cy="300.27" r="1.3"/><circle cx="363.47" cy="299.96" r="1.3"/><circle cx="344" cy="303.3" r="1.3"/><circle cx="347.7" cy="304.9" r="1.3"/><circle cx="357.3" cy="305.4" r="1.3"/><circle cx="361.5" cy="303.8" r="1.3"/><circle cx="351.4" cy="305.9" r="1.3"/><circle cx="347.7" cy="311.2" r="1.3"/><circle cx="351.4" cy="311.2" r="1.3"/><circle cx="355.7" cy="309.6" r="1.3"/><circle cx="347.7" cy="316.5" r="1.3"/><circle cx="351.4" cy="319.3" r="1.3"/><circle cx="355.7" cy="319.3" r="1.3"/><circle cx="349.3" cy="323.9" r="1.3"/><circle cx="353.6" cy="325.5" r="1.3"/><circle cx="351.4" cy="334.8" r="1.3"/><circle cx="414.8" cy="239.1" r="1.3"/><circle cx="410.6" cy="252.5" r="1.3"/><circle cx="414.8" cy="253.8" r="1.3"/><circle cx="418.5" cy="252.1" r="1.3"/><circle cx="408.7" cy="263.7" r="1.3"/><circle cx="412.7" cy="265.4" r="1.3"/><circle cx="416.7" cy="264.8" r="1.3"/><circle cx="420.8" cy="263.3" r="1.3"/><circle cx="399.75" cy="267.18" r="1.3"/><circle cx="404.05" cy="267.44" r="1.3"/><circle cx="408.35" cy="267.6" r="1.3"/><circle cx="412.65" cy="267.69" r="1.3"/><circle cx="416.95" cy="267.69" r="1.3"/><circle cx="421.25" cy="267.6" r="1.3"/><circle cx="425.55" cy="267.44" r="1.3"/><circle cx="429.85" cy="267.18" r="1.3"/><circle cx="396.8" cy="270.76" r="1.3"/><circle cx="400.8" cy="270.93" r="1.3"/><circle cx="404.8" cy="271.06" r="1.3"/><circle cx="408.8" cy="271.15" r="1.3"/><circle cx="412.8" cy="271.19" r="1.3"/><circle cx="416.8" cy="271.19" r="1.3"/><circle cx="420.8" cy="271.15" r="1.3"/><circle cx="424.8" cy="271.06" r="1.3"/><circle cx="428.8" cy="270.93" r="1.3"/><circle cx="432.8" cy="270.76" r="1.3"/><circle cx="436.8" cy="270.6" r="1.3"/><circle cx="397.8" cy="273.03" r="1.3"/><circle cx="402.3" cy="273.16" r="1.3"/><circle cx="406.8" cy="273.24" r="1.3"/><circle cx="411.3" cy="273.29" r="1.3"/><circle cx="415.8" cy="273.3" r="1.3"/><circle cx="420.3" cy="273.27" r="1.3"/><circle cx="424.8" cy="273.21" r="1.3"/><circle cx="429.3" cy="273.11" r="1.3"/><circle cx="433.8" cy="273" r="1.3"/><circle cx="394.5" cy="277.67" r="1.3"/><circle cx="397.4" cy="277.91" r="1.3"/><circle cx="400.3" cy="278.12" r="1.3"/><circle cx="403.2" cy="278.29" r="1.3"/><circle cx="406.1" cy="278.43" r="1.3"/><circle cx="409" cy="278.52" r="1.3"/><circle cx="411.9" cy="278.58" r="1.3"/><circle cx="414.8" cy="278.6" r="1.3"/><circle cx="417.7" cy="278.58" r="1.3"/><circle cx="420.6" cy="278.52" r="1.3"/><circle cx="423.5" cy="278.43" r="1.3"/><circle cx="426.4" cy="278.29" r="1.3"/><circle cx="429.3" cy="278.12" r="1.3"/><circle cx="432.2" cy="277.91" r="1.3"/><circle cx="435.1" cy="277.67" r="1.3"/><circle cx="395.95" cy="281.39" r="1.3"/><circle cx="398.85" cy="281.62" r="1.3"/><circle cx="401.75" cy="281.81" r="1.3"/><circle cx="404.65" cy="281.97" r="1.3"/><circle cx="407.55" cy="282.08" r="1.3"/><circle cx="410.45" cy="282.16" r="1.3"/><circle cx="413.35" cy="282.2" r="1.3"/><circle cx="416.25" cy="282.2" r="1.3"/><circle cx="419.15" cy="282.16" r="1.3"/><circle cx="422.05" cy="282.08" r="1.3"/><circle cx="424.95" cy="281.97" r="1.3"/><circle cx="427.85" cy="281.81" r="1.3"/><circle cx="430.75" cy="281.62" r="1.3"/><circle cx="433.65" cy="281.39" r="1.3"/><circle cx="436.55" cy="281.2" r="1.3"/><circle cx="396.4" cy="283.25" r="1.3"/><circle cx="398.7" cy="283.43" r="1.3"/><circle cx="401" cy="283.58" r="1.3"/><circle cx="403.3" cy="283.71" r="1.3"/><circle cx="405.6" cy="283.81" r="1.3"/><circle cx="407.9" cy="283.89" r="1.3"/><circle cx="410.2" cy="283.95" r="1.3"/><circle cx="412.5" cy="283.99" r="1.3"/><circle cx="414.8" cy="284" r="1.3"/><circle cx="417.1" cy="283.99" r="1.3"/><circle cx="419.4" cy="283.95" r="1.3"/><circle cx="421.7" cy="283.89" r="1.3"/><circle cx="424" cy="283.81" r="1.3"/><circle cx="426.3" cy="283.71" r="1.3"/><circle cx="428.6" cy="283.58" r="1.3"/><circle cx="430.9" cy="283.43" r="1.3"/><circle cx="433.2" cy="283.25" r="1.3"/><circle cx="396.6" cy="285.34" r="1.3"/><circle cx="399.4" cy="285.53" r="1.3"/><circle cx="402.2" cy="285.68" r="1.3"/><circle cx="405" cy="285.81" r="1.3"/><circle cx="407.8" cy="285.9" r="1.3"/><circle cx="410.6" cy="285.96" r="1.3"/><circle cx="413.4" cy="286" r="1.3"/><circle cx="416.2" cy="286" r="1.3"/><circle cx="419" cy="285.96" r="1.3"/><circle cx="421.8" cy="285.9" r="1.3"/><circle cx="424.6" cy="285.81" r="1.3"/><circle cx="427.4" cy="285.68" r="1.3"/><circle cx="430.2" cy="285.53" r="1.3"/><circle cx="433" cy="285.34" r="1.3"/><circle cx="435.8" cy="285.2" r="1.3"/><circle cx="396.1" cy="288.03" r="1.3"/><circle cx="399.5" cy="288.28" r="1.3"/><circle cx="402.9" cy="288.49" r="1.3"/><circle cx="406.3" cy="288.64" r="1.3"/><circle cx="409.7" cy="288.74" r="1.3"/><circle cx="413.1" cy="288.79" r="1.3"/><circle cx="416.5" cy="288.79" r="1.3"/><circle cx="419.9" cy="288.74" r="1.3"/><circle cx="423.3" cy="288.64" r="1.3"/><circle cx="426.7" cy="288.49" r="1.3"/><circle cx="430.1" cy="288.28" r="1.3"/><circle cx="433.5" cy="288.03" r="1.3"/><circle cx="402.5" cy="291.1" r="1.3"/><circle cx="406" cy="291.34" r="1.3"/><circle cx="409.5" cy="291.51" r="1.3"/><circle cx="413" cy="291.59" r="1.3"/><circle cx="416.5" cy="291.59" r="1.3"/><circle cx="420" cy="291.51" r="1.3"/><circle cx="423.5" cy="291.35" r="1.3"/><circle cx="427" cy="291.1" r="1.3"/><circle cx="430.5" cy="290.8" r="1.3"/><circle cx="405.8" cy="293.23" r="1.3"/><circle cx="409.4" cy="293.47" r="1.3"/><circle cx="413" cy="293.59" r="1.3"/><circle cx="416.6" cy="293.59" r="1.3"/><circle cx="420.2" cy="293.47" r="1.3"/><circle cx="423.8" cy="293.23" r="1.3"/><circle cx="408.7" cy="296.2" r="1.3"/><circle cx="412.7" cy="298.2" r="1.3"/><circle cx="416.7" cy="297.3" r="1.3"/><circle cx="419" cy="294.4" r="1.3"/><circle cx="405.2" cy="301.3" r="1.3"/><circle cx="409.2" cy="302.5" r="1.3"/><circle cx="412.7" cy="304.5" r="1.3"/><circle cx="416.7" cy="304.5" r="1.3"/><circle cx="420.2" cy="304.5" r="1.3"/><circle cx="424.2" cy="302.2" r="1.3"/><circle cx="403.5" cy="306.5" r="1.3"/><circle cx="406.9" cy="307.1" r="1.3"/><circle cx="411" cy="308.8" r="1.3"/><circle cx="414.8" cy="309.8" r="1.3"/><circle cx="418.5" cy="309.4" r="1.3"/><circle cx="422.5" cy="308.3" r="1.3"/><circle cx="426" cy="307.1" r="1.3"/><circle cx="408.7" cy="314" r="1.3"/><circle cx="410.6" cy="315.2" r="1.3"/><circle cx="414.8" cy="314" r="1.3"/><circle cx="418.5" cy="313.7" r="1.3"/><circle cx="420.5" cy="315.8" r="1.3"/><circle cx="410.6" cy="319.5" r="1.3"/><circle cx="414.8" cy="318" r="1.3"/><circle cx="418.5" cy="319.8" r="1.3"/><circle cx="414.8" cy="322.7" r="1.3"/><circle cx="410.6" cy="325.6" r="1.3"/><circle cx="414.8" cy="329.4" r="1.3"/><circle cx="418.5" cy="329.4" r="1.3"/><circle cx="69.4" cy="448.7" r="1.3"/><circle cx="69.4" cy="468.3" r="1.3"/><circle cx="69.7" cy="471" r="1.3"/><circle cx="82.9" cy="470.7" r="1.3"/><circle cx="81.8" cy="478.4" r="1.3"/><circle cx="100" cy="462.2" r="1.3"/><circle cx="117.9" cy="447.4" r="1.3"/><circle cx="118.8" cy="478.8" r="1.3"/><circle cx="75.5" cy="483.3" r="1.3"/><circle cx="68.7" cy="487.1" r="1.3"/><circle cx="80.9" cy="487.8" r="1.3"/><circle cx="85.3" cy="486.4" r="1.3"/><circle cx="97.4" cy="486.4" r="1.3"/><circle cx="107.8" cy="486.4" r="1.3"/><circle cx="126.9" cy="485.1" r="1.3"/><circle cx="74.1" cy="490" r="1.3"/><circle cx="77.5" cy="491.1" r="1.3"/><circle cx="91.2" cy="489.1" r="1.3"/><circle cx="90.3" cy="491.1" r="1.3"/><circle cx="100.4" cy="491.4" r="1.3"/><circle cx="107.1" cy="491.4" r="1.3"/><circle cx="121.2" cy="490.5" r="1.3"/><circle cx="119.2" cy="492.5" r="1.3"/><circle cx="85.6" cy="494.2" r="1.3"/><circle cx="111.1" cy="494.2" r="1.3"/><circle cx="96.3" cy="497.2" r="1.3"/><circle cx="99" cy="497.2" r="1.3"/><circle cx="103.7" cy="497.2" r="1.3"/><circle cx="127.3" cy="497.2" r="1.3"/><circle cx="92.3" cy="502.6" r="1.3"/><circle cx="104.4" cy="502.9" r="1.3"/><circle cx="89" cy="506.3" r="1.3"/><circle cx="68.7" cy="494.2" r="1.3"/><circle cx="71.4" cy="494.2" r="1.3"/><circle cx="74.1" cy="494.2" r="1.3"/><circle cx="76.8" cy="494.2" r="1.3"/><circle cx="79.5" cy="494.2" r="1.3"/><circle cx="115.8" cy="494.2" r="1.3"/><circle cx="117.83" cy="494.2" r="1.3"/><circle cx="119.87" cy="494.2" r="1.3"/><circle cx="121.9" cy="494.2" r="1.3"/><circle cx="69.4" cy="497.2" r="1.3"/><circle cx="72.1" cy="497.2" r="1.3"/><circle cx="74.8" cy="497.2" r="1.3"/><circle cx="109.1" cy="497.2" r="1.3"/><circle cx="111.15" cy="497.2" r="1.3"/><circle cx="113.2" cy="497.2" r="1.3"/><circle cx="119.2" cy="497.2" r="1.3"/><circle cx="121.25" cy="497.2" r="1.3"/><circle cx="123.3" cy="497.2" r="1.3"/><circle cx="68" cy="500.6" r="1.3"/><circle cx="70.5" cy="500.6" r="1.3"/><circle cx="73" cy="500.6" r="1.3"/><circle cx="75.5" cy="500.6" r="1.3"/><circle cx="78" cy="500.6" r="1.3"/><circle cx="80.5" cy="500.6" r="1.3"/><circle cx="83" cy="500.6" r="1.3"/><circle cx="89" cy="500.6" r="1.3"/><circle cx="91.75" cy="500.6" r="1.3"/><circle cx="94.5" cy="500.6" r="1.3"/><circle cx="97.25" cy="500.6" r="1.3"/><circle cx="100" cy="500.6" r="1.3"/><circle cx="107" cy="500.6" r="1.3"/><circle cx="110" cy="500.6" r="1.3"/><circle cx="113" cy="500.6" r="1.3"/><circle cx="118" cy="500.6" r="1.3"/><circle cx="122" cy="500.6" r="1.3"/><circle cx="126.6" cy="500.6" r="1.3"/><circle cx="130" cy="500.6" r="1.3"/><circle cx="68" cy="506.3" r="1.3"/><circle cx="69.67" cy="506.3" r="1.3"/><circle cx="71.33" cy="506.3" r="1.3"/><circle cx="73" cy="506.3" r="1.3"/><circle cx="74.67" cy="506.3" r="1.3"/><circle cx="76.33" cy="506.3" r="1.3"/><circle cx="78" cy="506.3" r="1.3"/><circle cx="79.67" cy="506.3" r="1.3"/><circle cx="81.33" cy="506.3" r="1.3"/><circle cx="83" cy="506.3" r="1.3"/><circle cx="95.7" cy="506.3" r="1.3"/><circle cx="99" cy="506.3" r="1.3"/><circle cx="102.4" cy="506.3" r="1.3"/><circle cx="104.4" cy="506.3" r="1.3"/><circle cx="109" cy="506.3" r="1.3"/><circle cx="110.91" cy="506.3" r="1.3"/><circle cx="112.82" cy="506.3" r="1.3"/><circle cx="114.73" cy="506.3" r="1.3"/><circle cx="116.64" cy="506.3" r="1.3"/><circle cx="118.55" cy="506.3" r="1.3"/><circle cx="120.45" cy="506.3" r="1.3"/><circle cx="122.36" cy="506.3" r="1.3"/><circle cx="124.27" cy="506.3" r="1.3"/><circle cx="126.18" cy="506.3" r="1.3"/><circle cx="128.09" cy="506.3" r="1.3"/><circle cx="130" cy="506.3" r="1.3"/><circle cx="189.2" cy="448.7" r="1.3"/><circle cx="172.9" cy="453.4" r="1.3"/><circle cx="177.6" cy="467.4" r="1.3"/><circle cx="170.1" cy="476.8" r="1.3"/><circle cx="139.4" cy="478.2" r="1.3"/><circle cx="139.4" cy="480.1" r="1.3"/><circle cx="137.3" cy="483.3" r="1.3"/><circle cx="126.7" cy="485" r="1.3"/><circle cx="155.3" cy="486.9" r="1.3"/><circle cx="159.6" cy="487.6" r="1.3"/><circle cx="140.9" cy="487.6" r="1.3"/><circle cx="166.1" cy="490.2" r="1.3"/><circle cx="177.2" cy="491.2" r="1.3"/><circle cx="184.6" cy="491.2" r="1.3"/><circle cx="189.6" cy="491.2" r="1.3"/><circle cx="147.4" cy="491.2" r="1.3"/><circle cx="150.2" cy="491.9" r="1.3"/><circle cx="155.3" cy="490.8" r="1.3"/><circle cx="160.3" cy="490.8" r="1.3"/><circle cx="143" cy="492.6" r="1.3"/><circle cx="138" cy="492.6" r="1.3"/><circle cx="168.3" cy="493.4" r="1.3"/><circle cx="171.2" cy="494.8" r="1.3"/><circle cx="175.5" cy="494.8" r="1.3"/><circle cx="178.1" cy="495.1" r="1.3"/><circle cx="191.4" cy="494.8" r="1.3"/><circle cx="188.5" cy="497.4" r="1.3"/><circle cx="166.8" cy="497" r="1.3"/><circle cx="133.7" cy="494.8" r="1.3"/><circle cx="135.1" cy="497" r="1.3"/><circle cx="164.7" cy="500.6" r="1.3"/><circle cx="175.5" cy="500.6" r="1.3"/><circle cx="195.4" cy="500.6" r="1.3"/><circle cx="145.2" cy="502.3" r="1.3"/><circle cx="162.8" cy="506.3" r="1.3"/><circle cx="196.8" cy="506.3" r="1.3"/><circle cx="125" cy="497.4" r="1.3"/><circle cx="128.75" cy="497.4" r="1.3"/><circle cx="132.5" cy="497.4" r="1.3"/><circle cx="136.25" cy="497.4" r="1.3"/><circle cx="140" cy="497.4" r="1.3"/><circle cx="149.5" cy="497.4" r="1.3"/><circle cx="153.1" cy="497.4" r="1.3"/><circle cx="156.7" cy="497.4" r="1.3"/><circle cx="160.3" cy="497.4" r="1.3"/><circle cx="125" cy="500.6" r="1.3"/><circle cx="128.6" cy="500.6" r="1.3"/><circle cx="132.2" cy="500.6" r="1.3"/><circle cx="135.8" cy="500.6" r="1.3"/><circle cx="139.4" cy="500.6" r="1.3"/><circle cx="148.8" cy="500.6" r="1.3"/><circle cx="151.68" cy="500.6" r="1.3"/><circle cx="154.55" cy="500.6" r="1.3"/><circle cx="157.43" cy="500.6" r="1.3"/><circle cx="160.3" cy="500.6" r="1.3"/><circle cx="179.8" cy="500.6" r="1.3"/><circle cx="182.7" cy="500.6" r="1.3"/><circle cx="125" cy="506.3" r="1.3"/><circle cx="127.83" cy="506.3" r="1.3"/><circle cx="130.67" cy="506.3" r="1.3"/><circle cx="133.5" cy="506.3" r="1.3"/><circle cx="136.33" cy="506.3" r="1.3"/><circle cx="139.17" cy="506.3" r="1.3"/><circle cx="142" cy="506.3" r="1.3"/><circle cx="144.83" cy="506.3" r="1.3"/><circle cx="147.67" cy="506.3" r="1.3"/><circle cx="150.5" cy="506.3" r="1.3"/><circle cx="153.33" cy="506.3" r="1.3"/><circle cx="156.17" cy="506.3" r="1.3"/><circle cx="159" cy="506.3" r="1.3"/><circle cx="166.8" cy="506.3" r="1.3"/><circle cx="169.7" cy="506.3" r="1.3"/><circle cx="172.6" cy="506.3" r="1.3"/><circle cx="175.5" cy="506.3" r="1.3"/><circle cx="178.4" cy="506.3" r="1.3"/><circle cx="181.3" cy="506.3" r="1.3"/><circle cx="185.6" cy="506.3" r="1.3"/><circle cx="188.1" cy="506.3" r="1.3"/><circle cx="190.6" cy="506.3" r="1.3"/><circle cx="333.3" cy="434.5" r="1.3"/><circle cx="329.2" cy="438.6" r="1.3"/><circle cx="354.4" cy="434.8" r="1.3"/><circle cx="332.5" cy="444.4" r="1.3"/><circle cx="328.3" cy="446.3" r="1.3"/><circle cx="329.8" cy="447.8" r="1.3"/><circle cx="337.9" cy="447.5" r="1.3"/><circle cx="350.2" cy="442.9" r="1.3"/><circle cx="350.2" cy="444" r="1.3"/><circle cx="346.5" cy="449.5" r="1.3"/><circle cx="343.7" cy="451.3" r="1.3"/><circle cx="333.8" cy="452.7" r="1.3"/><circle cx="328.3" cy="451.5" r="1.3"/><circle cx="328.1" cy="454.4" r="1.3"/><circle cx="337.9" cy="454.4" r="1.3"/><circle cx="353.5" cy="453.3" r="1.3"/><circle cx="360.2" cy="450.2" r="1.3"/><circle cx="364.8" cy="449.5" r="1.3"/><circle cx="372.5" cy="450.2" r="1.3"/><circle cx="377.5" cy="448.7" r="1.3"/><circle cx="331" cy="455.9" r="1.3"/><circle cx="328.7" cy="457.9" r="1.3"/><circle cx="331.5" cy="458.7" r="1.3"/><circle cx="334.4" cy="457.3" r="1.3"/><circle cx="336.2" cy="459.6" r="1.3"/><circle cx="339" cy="460.2" r="1.3"/><circle cx="341.3" cy="461.9" r="1.3"/><circle cx="335" cy="462.5" r="1.3"/><circle cx="329.8" cy="462.5" r="1.3"/><circle cx="333.8" cy="465.2" r="1.3"/><circle cx="338.5" cy="466.3" r="1.3"/><circle cx="343.7" cy="466.8" r="1.3"/><circle cx="351.7" cy="457.5" r="1.3"/><circle cx="358.7" cy="455.2" r="1.3"/><circle cx="360.2" cy="455.6" r="1.3"/><circle cx="362.7" cy="459.4" r="1.3"/><circle cx="359.8" cy="459.6" r="1.3"/><circle cx="352.9" cy="463.1" r="1.3"/><circle cx="358.1" cy="463.1" r="1.3"/><circle cx="352.3" cy="466.5" r="1.3"/><circle cx="359.2" cy="466.5" r="1.3"/><circle cx="366.7" cy="463.1" r="1.3"/><circle cx="366.2" cy="465.4" r="1.3"/><circle cx="370.2" cy="458.5" r="1.3"/><circle cx="371.3" cy="462.5" r="1.3"/><circle cx="372.5" cy="467.7" r="1.3"/><circle cx="370.8" cy="469.4" r="1.3"/><circle cx="374.8" cy="470.2" r="1.3"/><circle cx="374.2" cy="456.2" r="1.3"/><circle cx="376.5" cy="459" r="1.3"/><circle cx="331.3" cy="469.1" r="1.3"/><circle cx="338.5" cy="471.4" r="1.3"/><circle cx="357.5" cy="469.4" r="1.3"/><circle cx="356.9" cy="473.5" r="1.3"/><circle cx="329.5" cy="474.4" r="1.3"/><circle cx="337.3" cy="475.5" r="1.3"/><circle cx="340.2" cy="475.5" r="1.3"/><circle cx="343.1" cy="475.5" r="1.3"/><circle cx="334.4" cy="478.3" r="1.3"/><circle cx="351.4" cy="477.5" r="1.3"/><circle cx="355.5" cy="479.5" r="1.3"/><circle cx="374.8" cy="477.5" r="1.3"/><circle cx="339.8" cy="482.1" r="1.3"/><circle cx="329.2" cy="490.2" r="1.3"/><circle cx="338.5" cy="488.2" r="1.3"/><circle cx="346.3" cy="490.2" r="1.3"/><circle cx="362.5" cy="493.1" r="1.3"/><circle cx="378.8" cy="497.1" r="1.3"/><circle cx="330.5" cy="457" r="1.3"/><circle cx="332.5" cy="456" r="1.3"/><circle cx="334" cy="459" r="1.3"/><circle cx="336" cy="457.5" r="1.3"/><circle cx="333" cy="453.5" r="1.3"/><circle cx="401.8" cy="436" r="1.3"/><circle cx="381.7" cy="443.5" r="1.3"/><circle cx="383.3" cy="442.9" r="1.3"/><circle cx="398.7" cy="443.2" r="1.3"/><circle cx="416" cy="444.6" r="1.3"/><circle cx="414.8" cy="446.3" r="1.3"/><circle cx="377.3" cy="448.7" r="1.3"/><circle cx="381.9" cy="450.2" r="1.3"/><circle cx="384.2" cy="450.4" r="1.3"/><circle cx="393.5" cy="448.7" r="1.3"/><circle cx="397.5" cy="447.5" r="1.3"/><circle cx="401" cy="446.3" r="1.3"/><circle cx="401.5" cy="449.2" r="1.3"/><circle cx="406.4" cy="447.5" r="1.3"/><circle cx="414.8" cy="449.2" r="1.3"/><circle cx="379.6" cy="453.8" r="1.3"/><circle cx="393.5" cy="452.7" r="1.3"/><circle cx="404.4" cy="453.3" r="1.3"/><circle cx="418.3" cy="452.1" r="1.3"/><circle cx="420.6" cy="451.5" r="1.3"/><circle cx="425.8" cy="452.5" r="1.3"/><circle cx="431.5" cy="452.7" r="1.3"/><circle cx="375" cy="458" r="1.3"/><circle cx="380.8" cy="458" r="1.3"/><circle cx="385.4" cy="459.2" r="1.3"/><circle cx="390" cy="456.2" r="1.3"/><circle cx="394" cy="455.6" r="1.3"/><circle cx="399.2" cy="457.3" r="1.3"/><circle cx="402.7" cy="456.7" r="1.3"/><circle cx="404.4" cy="458.5" r="1.3"/><circle cx="408.5" cy="456.2" r="1.3"/><circle cx="413" cy="457.9" r="1.3"/><circle cx="416" cy="459" r="1.3"/><circle cx="418.8" cy="457.3" r="1.3"/><circle cx="422.3" cy="458.5" r="1.3"/><circle cx="425.8" cy="459.6" r="1.3"/><circle cx="429.2" cy="459" r="1.3"/><circle cx="433.8" cy="458.5" r="1.3"/><circle cx="381.9" cy="462.5" r="1.3"/><circle cx="384.8" cy="464.2" r="1.3"/><circle cx="388.8" cy="463.1" r="1.3"/><circle cx="392.3" cy="461.9" r="1.3"/><circle cx="395.2" cy="462.5" r="1.3"/><circle cx="399.2" cy="464.2" r="1.3"/><circle cx="402.7" cy="463.1" r="1.3"/><circle cx="409.6" cy="461.9" r="1.3"/><circle cx="413" cy="463.1" r="1.3"/><circle cx="416.5" cy="464.8" r="1.3"/><circle cx="421.2" cy="464.2" r="1.3"/><circle cx="424" cy="464.2" r="1.3"/><circle cx="434.4" cy="464.2" r="1.3"/><circle cx="380.8" cy="466.5" r="1.3"/><circle cx="383.1" cy="468.6" r="1.3"/><circle cx="397.5" cy="469.4" r="1.3"/><circle cx="404.4" cy="468.6" r="1.3"/><circle cx="409.6" cy="468.6" r="1.3"/><circle cx="426.3" cy="468.3" r="1.3"/><circle cx="375.6" cy="470" r="1.3"/><circle cx="392.3" cy="472.1" r="1.3"/><circle cx="401.5" cy="474.4" r="1.3"/><circle cx="413" cy="473.5" r="1.3"/><circle cx="418.3" cy="474.4" r="1.3"/><circle cx="421.7" cy="474.4" r="1.3"/><circle cx="422.3" cy="476.3" r="1.3"/><circle cx="380.2" cy="477.8" r="1.3"/><circle cx="383.7" cy="479.2" r="1.3"/><circle cx="388.3" cy="476.3" r="1.3"/><circle cx="375.6" cy="477.5" r="1.3"/><circle cx="416" cy="478.1" r="1.3"/><circle cx="404.4" cy="481.3" r="1.3"/><circle cx="387.1" cy="483.3" r="1.3"/><circle cx="388.6" cy="485.6" r="1.3"/><circle cx="393.5" cy="485.6" r="1.3"/><circle cx="403.8" cy="485.6" r="1.3"/><circle cx="425.8" cy="482.7" r="1.3"/><circle cx="428.1" cy="482.1" r="1.3"/><circle cx="384" cy="489" r="1.3"/><circle cx="418.3" cy="493.1" r="1.3"/><circle cx="379.4" cy="497.1" r="1.3"/><circle cx="401" cy="459" r="1.3"/><circle cx="403" cy="461" r="1.3"/><circle cx="405" cy="460" r="1.3"/><circle cx="400" cy="461.5" r="1.3"/><circle cx="398" cy="460" r="1.3"/><circle cx="396" cy="460" r="1.3"/><circle cx="398.5" cy="462.5" r="1.3"/><circle cx="401.5" cy="457.5" r="1.3"/><circle cx="406" cy="461" r="1.3"/><circle cx="411" cy="459.5" r="1.3"/><circle cx="413.5" cy="462" r="1.3"/><circle cx="417" cy="461.5" r="1.3"/><circle cx="420" cy="460" r="1.3"/><circle cx="394" cy="463.5" r="1.3"/><circle cx="404" cy="464.5" r="1.3"/><circle cx="386" cy="458.5" r="1.3"/><circle cx="390" cy="460.5" r="1.3"/><circle cx="405" cy="455.5" r="1.3"/><circle cx="389" cy="462.5" r="1.3"/><circle cx="403.5" cy="466" r="1.3"/><circle cx="437.4" cy="424.7" r="1.3"/><circle cx="442.8" cy="448.6" r="1.3"/><circle cx="444.1" cy="449.7" r="1.3"/><circle cx="446.2" cy="451.3" r="1.3"/><circle cx="453.6" cy="446.6" r="1.3"/><circle cx="454.2" cy="448" r="1.3"/><circle cx="456.9" cy="448.4" r="1.3"/><circle cx="452.9" cy="450.3" r="1.3"/><circle cx="458.3" cy="451.3" r="1.3"/><circle cx="438.1" cy="451.1" r="1.3"/><circle cx="431.3" cy="452.4" r="1.3"/><circle cx="464.3" cy="454" r="1.3"/><circle cx="447.5" cy="454" r="1.3"/><circle cx="450.2" cy="454.7" r="1.3"/><circle cx="447.5" cy="457.4" r="1.3"/><circle cx="434" cy="458.1" r="1.3"/><circle cx="436" cy="458.1" r="1.3"/><circle cx="439.4" cy="457.4" r="1.3"/><circle cx="443.5" cy="459.1" r="1.3"/><circle cx="446.2" cy="460.8" r="1.3"/><circle cx="438.7" cy="460.8" r="1.3"/><circle cx="441.4" cy="462.8" r="1.3"/><circle cx="456.9" cy="458.1" r="1.3"/><circle cx="458.3" cy="459.4" r="1.3"/><circle cx="465.7" cy="461.4" r="1.3"/><circle cx="464.3" cy="464.5" r="1.3"/><circle cx="458.9" cy="464.5" r="1.3"/><circle cx="459.9" cy="466.1" r="1.3"/><circle cx="434.3" cy="464.5" r="1.3"/><circle cx="445.5" cy="466.8" r="1.3"/><circle cx="434" cy="470.9" r="1.3"/><circle cx="438.1" cy="472.6" r="1.3"/><circle cx="443.2" cy="472.9" r="1.3"/><circle cx="440.5" cy="481.4" r="1.3"/><circle cx="440.5" cy="485.7" r="1.3"/><circle cx="445.1" cy="485" r="1.3"/><circle cx="433" cy="457.5" r="1.3"/><circle cx="435" cy="459" r="1.3"/><circle cx="134.02" cy="625.16" r="1.3"/><circle cx="139.32" cy="624.51" r="1.3"/><circle cx="148.68" cy="625.56" r="1.3"/><circle cx="155.72" cy="625.03" r="1.3"/><circle cx="158.77" cy="624.69" r="1.3"/><circle cx="161.95" cy="624.93" r="1.3"/><circle cx="132.83" cy="627.45" r="1.3"/><circle cx="136.1" cy="628.09" r="1.3"/><circle cx="140.74" cy="627.18" r="1.3"/><circle cx="143.2" cy="627.82" r="1.3"/><circle cx="147.09" cy="627.36" r="1.3"/><circle cx="154.59" cy="627.99" r="1.3"/><circle cx="158.47" cy="627.38" r="1.3"/><circle cx="160.78" cy="627.83" r="1.3"/><circle cx="162.82" cy="627.3" r="1.3"/><circle cx="122.24" cy="629.47" r="1.3"/><circle cx="128.48" cy="629.94" r="1.3"/><circle cx="131.52" cy="629.56" r="1.3"/><circle cx="133.46" cy="629.9" r="1.3"/><circle cx="136.48" cy="630.57" r="1.3"/><circle cx="140.02" cy="629.76" r="1.3"/><circle cx="142.94" cy="629.65" r="1.3"/><circle cx="145.05" cy="630.43" r="1.3"/><circle cx="148.2" cy="629.52" r="1.3"/><circle cx="151.49" cy="629.66" r="1.3"/><circle cx="153.98" cy="629.79" r="1.3"/><circle cx="155.8" cy="629.51" r="1.3"/><circle cx="158.84" cy="630.12" r="1.3"/><circle cx="161.93" cy="630.55" r="1.3"/><circle cx="164.9" cy="630.44" r="1.3"/><circle cx="167.12" cy="630.49" r="1.3"/><circle cx="121.74" cy="633.03" r="1.3"/><circle cx="124.83" cy="632.96" r="1.3"/><circle cx="126.89" cy="632.02" r="1.3"/><circle cx="130.45" cy="632.19" r="1.3"/><circle cx="132.89" cy="632.21" r="1.3"/><circle cx="135.85" cy="632.62" r="1.3"/><circle cx="137.91" cy="632.11" r="1.3"/><circle cx="141.31" cy="631.98" r="1.3"/><circle cx="143.42" cy="632.57" r="1.3"/><circle cx="147.09" cy="632.64" r="1.3"/><circle cx="149.09" cy="633" r="1.3"/><circle cx="151.79" cy="631.92" r="1.3"/><circle cx="154.68" cy="632.43" r="1.3"/><circle cx="157.18" cy="632.11" r="1.3"/><circle cx="160.42" cy="632.59" r="1.3"/><circle cx="163.21" cy="632.97" r="1.3"/><circle cx="116.53" cy="635.49" r="1.3"/><circle cx="125.79" cy="634.98" r="1.3"/><circle cx="128.72" cy="634.78" r="1.3"/><circle cx="131.9" cy="634.49" r="1.3"/><circle cx="134.06" cy="635.28" r="1.3"/><circle cx="137.36" cy="635.28" r="1.3"/><circle cx="139.89" cy="635.35" r="1.3"/><circle cx="142.98" cy="634.82" r="1.3"/><circle cx="145.46" cy="635.48" r="1.3"/><circle cx="148.52" cy="634.9" r="1.3"/><circle cx="151.21" cy="635.44" r="1.3"/><circle cx="153.7" cy="635.15" r="1.3"/><circle cx="156.24" cy="635.1" r="1.3"/><circle cx="159.35" cy="634.5" r="1.3"/><circle cx="162.2" cy="635.59" r="1.3"/><circle cx="165.33" cy="635.27" r="1.3"/><circle cx="167.93" cy="635.1" r="1.3"/><circle cx="170.87" cy="634.5" r="1.3"/><circle cx="176.14" cy="634.98" r="1.3"/><circle cx="118.76" cy="638" r="1.3"/><circle cx="120.72" cy="637.26" r="1.3"/><circle cx="124.45" cy="637.14" r="1.3"/><circle cx="126.54" cy="637.99" r="1.3"/><circle cx="130.02" cy="637.43" r="1.3"/><circle cx="133.15" cy="637.29" r="1.3"/><circle cx="135.63" cy="637.14" r="1.3"/><circle cx="138.1" cy="637.87" r="1.3"/><circle cx="141.58" cy="637.96" r="1.3"/><circle cx="143.64" cy="637.6" r="1.3"/><circle cx="146.34" cy="637.06" r="1.3"/><circle cx="149.4" cy="637.9" r="1.3"/><circle cx="152.69" cy="637.75" r="1.3"/><circle cx="155.63" cy="637.23" r="1.3"/><circle cx="157.34" cy="637.44" r="1.3"/><circle cx="160.29" cy="637.16" r="1.3"/><circle cx="163.28" cy="637.65" r="1.3"/><circle cx="166.19" cy="637.28" r="1.3"/><circle cx="169.67" cy="637.44" r="1.3"/><circle cx="171.14" cy="637.95" r="1.3"/><circle cx="174.89" cy="637.58" r="1.3"/><circle cx="111.09" cy="639.95" r="1.3"/><circle cx="114.86" cy="639.68" r="1.3"/><circle cx="116.57" cy="640.16" r="1.3"/><circle cx="120.18" cy="640.19" r="1.3"/><circle cx="123.23" cy="640.55" r="1.3"/><circle cx="125.86" cy="639.64" r="1.3"/><circle cx="128.37" cy="639.61" r="1.3"/><circle cx="130.52" cy="639.97" r="1.3"/><circle cx="134.3" cy="639.61" r="1.3"/><circle cx="136.48" cy="639.81" r="1.3"/><circle cx="139.88" cy="640.02" r="1.3"/><circle cx="142.56" cy="640.31" r="1.3"/><circle cx="145.05" cy="640.35" r="1.3"/><circle cx="148.57" cy="639.5" r="1.3"/><circle cx="151.41" cy="640.27" r="1.3"/><circle cx="153.08" cy="639.94" r="1.3"/><circle cx="156.58" cy="640.49" r="1.3"/><circle cx="159.03" cy="640.08" r="1.3"/><circle cx="162.53" cy="640.36" r="1.3"/><circle cx="165.42" cy="639.96" r="1.3"/><circle cx="167.81" cy="639.65" r="1.3"/><circle cx="170.85" cy="640.17" r="1.3"/><circle cx="172.8" cy="640.48" r="1.3"/><circle cx="116.37" cy="642.93" r="1.3"/><circle cx="118.02" cy="642.43" r="1.3"/><circle cx="121.47" cy="642.82" r="1.3"/><circle cx="124.18" cy="641.93" r="1.3"/><circle cx="127.43" cy="641.98" r="1.3"/><circle cx="130.22" cy="642.11" r="1.3"/><circle cx="132.37" cy="642.85" r="1.3"/><circle cx="134.9" cy="642.08" r="1.3"/><circle cx="138.22" cy="642.77" r="1.3"/><circle cx="141.48" cy="642.73" r="1.3"/><circle cx="144.42" cy="642.49" r="1.3"/><circle cx="147.23" cy="642" r="1.3"/><circle cx="149.01" cy="642.53" r="1.3"/><circle cx="151.91" cy="642.77" r="1.3"/><circle cx="155.19" cy="642.53" r="1.3"/><circle cx="158.28" cy="642.57" r="1.3"/><circle cx="160.34" cy="642.36" r="1.3"/><circle cx="163.88" cy="642.98" r="1.3"/><circle cx="165.79" cy="642.92" r="1.3"/><circle cx="169.66" cy="642.53" r="1.3"/><circle cx="171.38" cy="642.54" r="1.3"/><circle cx="174.75" cy="641.93" r="1.3"/><circle cx="117.19" cy="645.23" r="1.3"/><circle cx="120.05" cy="644.9" r="1.3"/><circle cx="123.44" cy="645.51" r="1.3"/><circle cx="125.28" cy="644.97" r="1.3"/><circle cx="127.88" cy="644.92" r="1.3"/><circle cx="131.64" cy="645.48" r="1.3"/><circle cx="133.97" cy="644.78" r="1.3"/><circle cx="136.37" cy="645.14" r="1.3"/><circle cx="140.2" cy="644.56" r="1.3"/><circle cx="142.79" cy="644.43" r="1.3"/><circle cx="144.77" cy="644.67" r="1.3"/><circle cx="148.26" cy="644.79" r="1.3"/><circle cx="150.6" cy="645.14" r="1.3"/><circle cx="153.05" cy="645.28" r="1.3"/><circle cx="155.87" cy="645.01" r="1.3"/><circle cx="158.85" cy="644.64" r="1.3"/><circle cx="162.04" cy="644.92" r="1.3"/><circle cx="164.63" cy="644.9" r="1.3"/><circle cx="167.64" cy="644.59" r="1.3"/><circle cx="169.99" cy="645.16" r="1.3"/><circle cx="173.24" cy="645.42" r="1.3"/><circle cx="176.5" cy="644.68" r="1.3"/><circle cx="112.74" cy="648.01" r="1.3"/><circle cx="116.5" cy="647.97" r="1.3"/><circle cx="118.24" cy="647.77" r="1.3"/><circle cx="121.06" cy="647.02" r="1.3"/><circle cx="124.67" cy="647.41" r="1.3"/><circle cx="127.41" cy="647.05" r="1.3"/><circle cx="129.66" cy="647.72" r="1.3"/><circle cx="131.92" cy="647.14" r="1.3"/><circle cx="135.66" cy="647.99" r="1.3"/><circle cx="138.86" cy="647.04" r="1.3"/><circle cx="141.01" cy="647.81" r="1.3"/><circle cx="143.8" cy="647.72" r="1.3"/><circle cx="146.16" cy="646.98" r="1.3"/><circle cx="148.85" cy="646.94" r="1.3"/><circle cx="152.27" cy="647.52" r="1.3"/><circle cx="155.1" cy="647.08" r="1.3"/><circle cx="157.36" cy="647.14" r="1.3"/><circle cx="161.08" cy="648.09" r="1.3"/><circle cx="164" cy="647.01" r="1.3"/><circle cx="165.59" cy="648.04" r="1.3"/><circle cx="168.95" cy="647.82" r="1.3"/><circle cx="171.56" cy="647.46" r="1.3"/><circle cx="174.5" cy="647.62" r="1.3"/><circle cx="177.68" cy="647.91" r="1.3"/><circle cx="180.14" cy="647.79" r="1.3"/><circle cx="113.93" cy="650.02" r="1.3"/><circle cx="117.75" cy="650.36" r="1.3"/><circle cx="120.51" cy="650.16" r="1.3"/><circle cx="122.67" cy="650.12" r="1.3"/><circle cx="125.61" cy="650.58" r="1.3"/><circle cx="128.83" cy="649.71" r="1.3"/><circle cx="131.78" cy="650.29" r="1.3"/><circle cx="134.39" cy="650.38" r="1.3"/><circle cx="136.67" cy="650.48" r="1.3"/><circle cx="140.13" cy="650.23" r="1.3"/><circle cx="142.77" cy="650.32" r="1.3"/><circle cx="145.07" cy="650.27" r="1.3"/><circle cx="147.4" cy="649.81" r="1.3"/><circle cx="150.76" cy="649.41" r="1.3"/><circle cx="153.4" cy="650.17" r="1.3"/><circle cx="156.57" cy="649.68" r="1.3"/><circle cx="159.82" cy="650.2" r="1.3"/><circle cx="161.77" cy="650.19" r="1.3"/><circle cx="164.9" cy="650.04" r="1.3"/><circle cx="167.45" cy="650.6" r="1.3"/><circle cx="170.6" cy="650.24" r="1.3"/><circle cx="173.87" cy="649.43" r="1.3"/><circle cx="176.33" cy="649.71" r="1.3"/><circle cx="178.17" cy="649.63" r="1.3"/><circle cx="113.57" cy="652.56" r="1.3"/><circle cx="116.45" cy="652.58" r="1.3"/><circle cx="121.59" cy="652.87" r="1.3"/><circle cx="123.61" cy="652.62" r="1.3"/><circle cx="127.36" cy="651.95" r="1.3"/><circle cx="130.4" cy="652.09" r="1.3"/><circle cx="132.56" cy="652.1" r="1.3"/><circle cx="135.39" cy="652.63" r="1.3"/><circle cx="137.58" cy="653.03" r="1.3"/><circle cx="140.89" cy="652.53" r="1.3"/><circle cx="143.94" cy="652.34" r="1.3"/><circle cx="146.3" cy="652.69" r="1.3"/><circle cx="149.48" cy="652.24" r="1.3"/><circle cx="152.5" cy="652.26" r="1.3"/><circle cx="154.32" cy="652.19" r="1.3"/><circle cx="157.16" cy="652.09" r="1.3"/><circle cx="160.96" cy="652.37" r="1.3"/><circle cx="163.96" cy="652.8" r="1.3"/><circle cx="165.57" cy="653.09" r="1.3"/><circle cx="169.62" cy="651.99" r="1.3"/><circle cx="171.7" cy="652.47" r="1.3"/><circle cx="177.43" cy="653.02" r="1.3"/><circle cx="119.46" cy="655.15" r="1.3"/><circle cx="122.74" cy="654.64" r="1.3"/><circle cx="124.97" cy="655.03" r="1.3"/><circle cx="127.87" cy="654.93" r="1.3"/><circle cx="131.44" cy="654.95" r="1.3"/><circle cx="133.67" cy="655.1" r="1.3"/><circle cx="136.69" cy="655.33" r="1.3"/><circle cx="139.64" cy="655.6" r="1.3"/><circle cx="143.03" cy="655.28" r="1.3"/><circle cx="144.83" cy="654.54" r="1.3"/><circle cx="148.55" cy="655.34" r="1.3"/><circle cx="150.97" cy="654.83" r="1.3"/><circle cx="153.28" cy="655.22" r="1.3"/><circle cx="156.49" cy="655.11" r="1.3"/><circle cx="159.39" cy="655.3" r="1.3"/><circle cx="161.57" cy="654.7" r="1.3"/><circle cx="165.47" cy="655.5" r="1.3"/><circle cx="168.13" cy="654.45" r="1.3"/><circle cx="170.08" cy="654.91" r="1.3"/><circle cx="172.64" cy="655.05" r="1.3"/><circle cx="175.42" cy="655.21" r="1.3"/><circle cx="115.77" cy="657.15" r="1.3"/><circle cx="118.94" cy="657.91" r="1.3"/><circle cx="120.87" cy="657.87" r="1.3"/><circle cx="124.37" cy="657.82" r="1.3"/><circle cx="126.6" cy="657.41" r="1.3"/><circle cx="129.46" cy="657.87" r="1.3"/><circle cx="132.42" cy="657.68" r="1.3"/><circle cx="136.08" cy="657.29" r="1.3"/><circle cx="138.27" cy="657.8" r="1.3"/><circle cx="141.59" cy="657.41" r="1.3"/><circle cx="143.62" cy="657.02" r="1.3"/><circle cx="147.13" cy="656.99" r="1.3"/><circle cx="148.82" cy="657.58" r="1.3"/><circle cx="152.18" cy="657.72" r="1.3"/><circle cx="154.72" cy="657.83" r="1.3"/><circle cx="157.21" cy="657.16" r="1.3"/><circle cx="160.83" cy="657" r="1.3"/><circle cx="163.13" cy="657.77" r="1.3"/><circle cx="166.47" cy="657.24" r="1.3"/><circle cx="168.8" cy="657.77" r="1.3"/><circle cx="171.26" cy="657.75" r="1.3"/><circle cx="122.54" cy="659.88" r="1.3"/><circle cx="126.15" cy="659.7" r="1.3"/><circle cx="128.21" cy="659.84" r="1.3"/><circle cx="131.01" cy="659.87" r="1.3"/><circle cx="133.84" cy="659.63" r="1.3"/><circle cx="136.89" cy="660.36" r="1.3"/><circle cx="139.66" cy="660.4" r="1.3"/><circle cx="142.49" cy="659.61" r="1.3"/><circle cx="145.56" cy="660.46" r="1.3"/><circle cx="147.69" cy="659.43" r="1.3"/><circle cx="150.82" cy="660.05" r="1.3"/><circle cx="153.69" cy="660.56" r="1.3"/><circle cx="156.61" cy="660.37" r="1.3"/><circle cx="158.59" cy="660.06" r="1.3"/><circle cx="162.4" cy="659.5" r="1.3"/><circle cx="164.21" cy="660.28" r="1.3"/><circle cx="167.02" cy="660.16" r="1.3"/><circle cx="170.74" cy="660.18" r="1.3"/><circle cx="172.81" cy="660.32" r="1.3"/><circle cx="124.19" cy="662.54" r="1.3"/><circle cx="127.29" cy="663" r="1.3"/><circle cx="129.67" cy="662.89" r="1.3"/><circle cx="132.83" cy="662.92" r="1.3"/><circle cx="135.83" cy="662.9" r="1.3"/><circle cx="138.74" cy="663.05" r="1.3"/><circle cx="141.2" cy="662.53" r="1.3"/><circle cx="144.09" cy="662.86" r="1.3"/><circle cx="146.49" cy="662.4" r="1.3"/><circle cx="148.9" cy="662.79" r="1.3"/><circle cx="152.89" cy="662.35" r="1.3"/><circle cx="154.53" cy="662.15" r="1.3"/><circle cx="157.69" cy="662.25" r="1.3"/><circle cx="161.26" cy="661.97" r="1.3"/><circle cx="162.86" cy="662.68" r="1.3"/><circle cx="165.75" cy="661.97" r="1.3"/><circle cx="169.12" cy="662.99" r="1.3"/><circle cx="171.25" cy="662.12" r="1.3"/><circle cx="174.23" cy="662.76" r="1.3"/><circle cx="119.56" cy="664.74" r="1.3"/><circle cx="123.16" cy="664.77" r="1.3"/><circle cx="126.04" cy="664.98" r="1.3"/><circle cx="128.94" cy="665.5" r="1.3"/><circle cx="131.27" cy="665.55" r="1.3"/><circle cx="133.98" cy="664.67" r="1.3"/><circle cx="136.17" cy="665.54" r="1.3"/><circle cx="140.02" cy="664.86" r="1.3"/><circle cx="142.44" cy="665.02" r="1.3"/><circle cx="144.88" cy="665.59" r="1.3"/><circle cx="148.22" cy="664.69" r="1.3"/><circle cx="150.12" cy="664.97" r="1.3"/><circle cx="153.42" cy="665.36" r="1.3"/><circle cx="156.7" cy="665.13" r="1.3"/><circle cx="158.72" cy="664.79" r="1.3"/><circle cx="162.52" cy="665.02" r="1.3"/><circle cx="165.49" cy="664.72" r="1.3"/><circle cx="167.11" cy="665.32" r="1.3"/><circle cx="170.85" cy="665.42" r="1.3"/><circle cx="121.08" cy="667.76" r="1.3"/><circle cx="124.17" cy="667.46" r="1.3"/><circle cx="130.3" cy="667.26" r="1.3"/><circle cx="135.98" cy="667.01" r="1.3"/><circle cx="137.79" cy="667.55" r="1.3"/><circle cx="140.52" cy="667.9" r="1.3"/><circle cx="143.54" cy="666.99" r="1.3"/><circle cx="146.33" cy="667.46" r="1.3"/><circle cx="149.2" cy="667.72" r="1.3"/><circle cx="152.05" cy="667.45" r="1.3"/><circle cx="159.92" cy="667.35" r="1.3"/><circle cx="166.29" cy="667.45" r="1.3"/><circle cx="169.69" cy="667.86" r="1.3"/><circle cx="131.26" cy="669.76" r="1.3"/><circle cx="133.85" cy="670.2" r="1.3"/><circle cx="136.38" cy="670.28" r="1.3"/><circle cx="140.22" cy="670.08" r="1.3"/><circle cx="145.66" cy="669.51" r="1.3"/><circle cx="147.43" cy="670.21" r="1.3"/><circle cx="150.35" cy="669.88" r="1.3"/><circle cx="158.82" cy="669.59" r="1.3"/><circle cx="161.87" cy="669.49" r="1.3"/><circle cx="140.76" cy="672.39" r="1.3"/><circle cx="143.66" cy="672.74" r="1.3"/><circle cx="157.56" cy="672.31" r="1.3"/><circle cx="165.64" cy="631.93" r="1.3"/><circle cx="132.55" cy="669.39" r="1.3"/><circle cx="164.89" cy="671.55" r="1.3"/><circle cx="152.45" cy="636.41" r="1.3"/><circle cx="146.84" cy="675.41" r="1.3"/><circle cx="140.46" cy="632.62" r="1.3"/><circle cx="132.37" cy="667.57" r="1.3"/><circle cx="182.44" cy="683.41" r="1.3"/><circle cx="173.09" cy="678.97" r="1.3"/><circle cx="142.25" cy="694.28" r="1.3"/><circle cx="181" cy="642.07" r="1.3"/><circle cx="138.19" cy="643.15" r="1.3"/><circle cx="136.28" cy="692.63" r="1.3"/><circle cx="147.42" cy="675.2" r="1.3"/><circle cx="143.89" cy="675.36" r="1.3"/><circle cx="132.57" cy="675.78" r="1.3"/><circle cx="123.44" cy="666.22" r="1.3"/><circle cx="134.09" cy="619.72" r="1.3"/><circle cx="146.24" cy="626.06" r="1.3"/><circle cx="182.25" cy="642.42" r="1.3"/><circle cx="108.24" cy="635.92" r="1.3"/><circle cx="139.77" cy="608.44" r="1.3"/><circle cx="143.11" cy="622.88" r="1.3"/><circle cx="138.12" cy="627.1" r="1.3"/><circle cx="146.63" cy="655.8" r="1.3"/><circle cx="173.5" cy="638.82" r="1.3"/><circle cx="159.28" cy="631.62" r="1.3"/><circle cx="151.55" cy="681.59" r="1.3"/><circle cx="108.49" cy="635.76" r="1.3"/><circle cx="173.43" cy="666.32" r="1.3"/><circle cx="162.81" cy="664.29" r="1.3"/><circle cx="142.91" cy="655.11" r="1.3"/><circle cx="181.8" cy="624.79" r="1.3"/><circle cx="158.17" cy="684.28" r="1.3"/><circle cx="132.92" cy="668.41" r="1.3"/><circle cx="164.43" cy="683.91" r="1.3"/><circle cx="160.06" cy="686.68" r="1.3"/><circle cx="130.27" cy="691.5" r="1.3"/><circle cx="166.5" cy="623.6" r="1.3"/><circle cx="165.41" cy="669.96" r="1.3"/><circle cx="128.83" cy="621.19" r="1.3"/><circle cx="126.52" cy="672.55" r="1.3"/><circle cx="164.97" cy="628.88" r="1.3"/><circle cx="148.12" cy="665.36" r="1.3"/><circle cx="145.81" cy="685.89" r="1.3"/><circle cx="159.29" cy="655.36" r="1.3"/><circle cx="161.77" cy="687.35" r="1.3"/><circle cx="146.07" cy="629.27" r="1.3"/><circle cx="150.72" cy="625.01" r="1.3"/><circle cx="109.31" cy="651.1" r="1.3"/><circle cx="136.75" cy="628.01" r="1.3"/><circle cx="157.2" cy="643.13" r="1.3"/><circle cx="159.21" cy="671.17" r="1.3"/><circle cx="147.88" cy="670.31" r="1.3"/><circle cx="150.81" cy="614.38" r="1.3"/><circle cx="150.5" cy="674.67" r="1.3"/><circle cx="140.55" cy="624.49" r="1.3"/><circle cx="132.14" cy="655.54" r="1.3"/><circle cx="183.21" cy="663.69" r="1.3"/><circle cx="124.41" cy="640.61" r="1.3"/><circle cx="175.92" cy="664.95" r="1.3"/><circle cx="132.95" cy="616.2" r="1.3"/><circle cx="137.26" cy="660.08" r="1.3"/><circle cx="167.27" cy="651.82" r="1.3"/><circle cx="140.06" cy="669.79" r="1.3"/><circle cx="150.45" cy="650.03" r="1.3"/><circle cx="148.58" cy="616.87" r="1.3"/><circle cx="147.1" cy="671.2" r="1.3"/><circle cx="123.43" cy="668.11" r="1.3"/><circle cx="162.72" cy="626.88" r="1.3"/><circle cx="156.27" cy="631.25" r="1.3"/><circle cx="150.73" cy="670.43" r="1.3"/><circle cx="138.56" cy="670.23" r="1.3"/><circle cx="174.63" cy="643.36" r="1.3"/><circle cx="172.14" cy="659.08" r="1.3"/><circle cx="172.71" cy="630.88" r="1.3"/><circle cx="162.54" cy="639.06" r="1.3"/><circle cx="139.12" cy="607.98" r="1.3"/><circle cx="180.06" cy="665.6" r="1.3"/><circle cx="131.15" cy="681.87" r="1.3"/><circle cx="124.85" cy="662.62" r="1.3"/><circle cx="165.54" cy="670.46" r="1.3"/><circle cx="144.01" cy="681.93" r="1.3"/><circle cx="140.31" cy="681.25" r="1.3"/><circle cx="130.45" cy="661.5" r="1.3"/><circle cx="129.24" cy="632.08" r="1.3"/><circle cx="122.31" cy="609.85" r="1.3"/><circle cx="120.35" cy="636.42" r="1.3"/><circle cx="118.14" cy="641.67" r="1.3"/><circle cx="123.05" cy="687.05" r="1.3"/><circle cx="154.37" cy="668.75" r="1.3"/><circle cx="110.6" cy="620.94" r="1.3"/><circle cx="129.82" cy="670.85" r="1.3"/><circle cx="176.53" cy="632.77" r="1.3"/><circle cx="127.57" cy="631.23" r="1.3"/><circle cx="164.75" cy="611.44" r="1.3"/><circle cx="115.3" cy="682.81" r="1.3"/><circle cx="139.53" cy="667.3" r="1.3"/><circle cx="128.7" cy="632.91" r="1.3"/><circle cx="136.26" cy="621.91" r="1.3"/><circle cx="180.53" cy="635.89" r="1.3"/><circle cx="160.27" cy="670.96" r="1.3"/><circle cx="138.97" cy="682.88" r="1.3"/><circle cx="169.76" cy="664.8" r="1.3"/><circle cx="161.81" cy="661.08" r="1.3"/><circle cx="134.77" cy="650.86" r="1.3"/><circle cx="112.14" cy="650.48" r="1.3"/><circle cx="122.5" cy="671.69" r="1.3"/><circle cx="145.66" cy="681.35" r="1.3"/><circle cx="138.05" cy="665.72" r="1.3"/><circle cx="165.63" cy="615.85" r="1.3"/><circle cx="120.35" cy="626.07" r="1.3"/><circle cx="171.12" cy="647.38" r="1.3"/><circle cx="122.53" cy="665.22" r="1.3"/><circle cx="110.77" cy="681.77" r="1.3"/><circle cx="133.6" cy="684.61" r="1.3"/><circle cx="122.11" cy="629.05" r="1.3"/><circle cx="113.31" cy="642.21" r="1.3"/><circle cx="182.9" cy="661.03" r="1.3"/><circle cx="157.29" cy="686.96" r="1.3"/><circle cx="126.43" cy="652.49" r="1.3"/><circle cx="131.34" cy="627.63" r="1.3"/><circle cx="138.39" cy="697.85" r="1.3"/><circle cx="112.28" cy="665.94" r="1.3"/><circle cx="125.9" cy="677.64" r="1.3"/><circle cx="137.59" cy="672.47" r="1.3"/><circle cx="159.02" cy="647.39" r="1.3"/><circle cx="169.2" cy="647" r="1.3"/><circle cx="154.14" cy="617.13" r="1.3"/><circle cx="118.38" cy="673.71" r="1.3"/><circle cx="161.22" cy="617.5" r="1.3"/><circle cx="154.73" cy="646.18" r="1.3"/><circle cx="121.73" cy="669.83" r="1.3"/><circle cx="145.87" cy="694.06" r="1.3"/><circle cx="136.65" cy="662.61" r="1.3"/><circle cx="158.29" cy="642.73" r="1.3"/><circle cx="132.29" cy="681.39" r="1.3"/><circle cx="189.71" cy="681.89" r="1.3"/><circle cx="101.9" cy="676.19" r="1.3"/><circle cx="162.11" cy="669.97" r="1.3"/><circle cx="126.32" cy="671.28" r="1.3"/><circle cx="152.17" cy="675.51" r="1.3"/><circle cx="174.48" cy="620.3" r="1.3"/><circle cx="173.3" cy="671.03" r="1.3"/><circle cx="124.74" cy="636.42" r="1.3"/><circle cx="158.35" cy="665.79" r="1.3"/><circle cx="165.23" cy="644.41" r="1.3"/><circle cx="186.37" cy="688.73" r="1.3"/><circle cx="132.14" cy="650.52" r="1.3"/><circle cx="119.51" cy="615.09" r="1.3"/><circle cx="162.23" cy="616.21" r="1.3"/><circle cx="181.25" cy="660.58" r="1.3"/><circle cx="142.55" cy="634.4" r="1.3"/><circle cx="123.42" cy="658.12" r="1.3"/><circle cx="167.64" cy="657.32" r="1.3"/><circle cx="131.89" cy="650.6" r="1.3"/><circle cx="166" cy="619.84" r="1.3"/><circle cx="106.67" cy="640.14" r="1.3"/><circle cx="169.78" cy="618.12" r="1.3"/><circle cx="161.37" cy="624.78" r="1.3"/><circle cx="151.99" cy="643.04" r="1.3"/><circle cx="153.19" cy="675.63" r="1.3"/><circle cx="167.88" cy="623.92" r="1.3"/><circle cx="155.22" cy="676.39" r="1.3"/><circle cx="135.31" cy="676.42" r="1.3"/><circle cx="141.39" cy="676.64" r="1.3"/><circle cx="179.72" cy="677.24" r="1.3"/><circle cx="175.13" cy="643.56" r="1.3"/><circle cx="114.67" cy="669.48" r="1.3"/><circle cx="148.34" cy="675.23" r="1.3"/><circle cx="137.62" cy="690.62" r="1.3"/><circle cx="137.52" cy="689.17" r="1.3"/><circle cx="136.69" cy="630.37" r="1.3"/><circle cx="122.16" cy="673.33" r="1.3"/><circle cx="173.23" cy="677.67" r="1.3"/><circle cx="145.79" cy="669.97" r="1.3"/><circle cx="126.84" cy="682.96" r="1.3"/><circle cx="160.96" cy="625.68" r="1.3"/><circle cx="137.66" cy="646.53" r="1.3"/><circle cx="141.24" cy="620.71" r="1.3"/><circle cx="123.42" cy="687.99" r="1.3"/><circle cx="134.58" cy="678.02" r="1.3"/><circle cx="106.27" cy="621.73" r="1.3"/><circle cx="117.78" cy="675.54" r="1.3"/><circle cx="128.64" cy="626.2" r="1.3"/><circle cx="123.41" cy="668.54" r="1.3"/><circle cx="121.34" cy="672.2" r="1.3"/><circle cx="123.61" cy="628.85" r="1.3"/><circle cx="145.26" cy="686.43" r="1.3"/><circle cx="142.06" cy="615.84" r="1.3"/><circle cx="175.06" cy="609.25" r="1.3"/><circle cx="163.45" cy="665.09" r="1.3"/><circle cx="137.01" cy="684.1" r="1.3"/><circle cx="146.4" cy="669.66" r="1.3"/><circle cx="126.32" cy="642.84" r="1.3"/><circle cx="175.34" cy="669.42" r="1.3"/><circle cx="174.37" cy="690.63" r="1.3"/><circle cx="178.1" cy="607.2" r="1.3"/><circle cx="158.9" cy="618.33" r="1.3"/><circle cx="172.66" cy="639.05" r="1.3"/><circle cx="123.51" cy="618.04" r="1.3"/><circle cx="114.35" cy="648.57" r="1.3"/><circle cx="141.73" cy="685.64" r="1.3"/><circle cx="112.37" cy="670.82" r="1.3"/><circle cx="160.13" cy="615.95" r="1.3"/><circle cx="141.93" cy="643.43" r="1.3"/><circle cx="170.33" cy="633.12" r="1.3"/><circle cx="189.9" cy="649.59" r="1.3"/><circle cx="146.43" cy="622.93" r="1.3"/><circle cx="177.03" cy="645.48" r="1.3"/><circle cx="121.02" cy="666.55" r="1.3"/><circle cx="188.14" cy="638.61" r="1.3"/><circle cx="175.53" cy="661.07" r="1.3"/><circle cx="116.48" cy="664.34" r="1.3"/><circle cx="154.49" cy="651.5" r="1.3"/><circle cx="133.97" cy="628.74" r="1.3"/><circle cx="169.34" cy="638.24" r="1.3"/><circle cx="151.19" cy="639.12" r="1.3"/><circle cx="125.56" cy="672.34" r="1.3"/><circle cx="120.84" cy="674.61" r="1.3"/><circle cx="170.7" cy="666.27" r="1.3"/><circle cx="158.64" cy="670.62" r="1.3"/><circle cx="131.09" cy="672.55" r="1.3"/><circle cx="132.17" cy="678.31" r="1.3"/><circle cx="121.97" cy="662.83" r="1.3"/><circle cx="97.76" cy="634.85" r="1.3"/><circle cx="149.72" cy="682.44" r="1.3"/><circle cx="159.01" cy="657.21" r="1.3"/><circle cx="174.71" cy="651.66" r="1.3"/><circle cx="173.04" cy="686.75" r="1.3"/><circle cx="149.18" cy="613.37" r="1.3"/><circle cx="173.2" cy="665.91" r="1.3"/><circle cx="138.56" cy="642.75" r="1.3"/><circle cx="110.62" cy="632.08" r="1.3"/><circle cx="171.8" cy="631.54" r="1.3"/><circle cx="115.35" cy="690.58" r="1.3"/><circle cx="142.91" cy="632.92" r="1.3"/><circle cx="142.09" cy="673.15" r="1.3"/><circle cx="153.88" cy="639.06" r="1.3"/><circle cx="161.93" cy="625.48" r="1.3"/><circle cx="116.25" cy="643.17" r="1.3"/><circle cx="118.75" cy="645.26" r="1.3"/><circle cx="162.62" cy="639.01" r="1.3"/><circle cx="148.17" cy="670.68" r="1.3"/><circle cx="124.91" cy="675.21" r="1.3"/><circle cx="137.97" cy="661.38" r="1.3"/><circle cx="180.73" cy="675.69" r="1.3"/><circle cx="141.96" cy="642.36" r="1.3"/><circle cx="162.31" cy="644.9" r="1.3"/><circle cx="172.08" cy="656.58" r="1.3"/><circle cx="174.72" cy="641.44" r="1.3"/><circle cx="166.46" cy="619.27" r="1.3"/><circle cx="155.29" cy="670.43" r="1.3"/><circle cx="132.39" cy="669.21" r="1.3"/><circle cx="155.61" cy="677.89" r="1.3"/><circle cx="121.82" cy="653.1" r="1.3"/><circle cx="130.85" cy="677.88" r="1.3"/><circle cx="187.16" cy="629.67" r="1.3"/><circle cx="174.02" cy="610.17" r="1.3"/><circle cx="135.71" cy="625.17" r="1.3"/><circle cx="112.5" cy="623.17" r="1.3"/><circle cx="165.69" cy="658.77" r="1.3"/><circle cx="155.06" cy="648.94" r="1.3"/><circle cx="159.94" cy="620.88" r="1.3"/><circle cx="121.16" cy="647.88" r="1.3"/><circle cx="144.12" cy="651.22" r="1.3"/><circle cx="144.06" cy="676.03" r="1.3"/><circle cx="132.67" cy="653.89" r="1.3"/><circle cx="113.04" cy="656.79" r="1.3"/><circle cx="144.51" cy="673.67" r="1.3"/><circle cx="144.8" cy="691.12" r="1.3"/><circle cx="131.33" cy="679.43" r="1.3"/><circle cx="130.59" cy="620.01" r="1.3"/><circle cx="138.56" cy="646.98" r="1.3"/><circle cx="138.22" cy="656.31" r="1.3"/><circle cx="149.48" cy="630.67" r="1.3"/><circle cx="144.85" cy="626.57" r="1.3"/><circle cx="140.91" cy="653.87" r="1.3"/><circle cx="154" cy="658.21" r="1.3"/><circle cx="188.64" cy="632.07" r="1.3"/><circle cx="122.03" cy="691.53" r="1.3"/><circle cx="164.92" cy="671.58" r="1.3"/><circle cx="128.86" cy="614.67" r="1.3"/><circle cx="139.53" cy="697.91" r="1.3"/><circle cx="116.66" cy="638.23" r="1.3"/><circle cx="100.58" cy="645.75" r="1.3"/><circle cx="134.28" cy="682.47" r="1.3"/><circle cx="134.08" cy="673.25" r="1.3"/><circle cx="136.71" cy="684.93" r="1.3"/><circle cx="158.06" cy="629.05" r="1.3"/><circle cx="162.59" cy="692.99" r="1.3"/><circle cx="150.19" cy="646.91" r="1.3"/><circle cx="160.43" cy="676.63" r="1.3"/><circle cx="152.79" cy="625.9" r="1.3"/><circle cx="144.25" cy="677.31" r="1.3"/><circle cx="131.34" cy="667.15" r="1.3"/><circle cx="164.68" cy="629.05" r="1.3"/><circle cx="125.47" cy="663.51" r="1.3"/><circle cx="129.45" cy="654.64" r="1.3"/><circle cx="150.65" cy="696.39" r="1.3"/><circle cx="169.68" cy="613.82" r="1.3"/><circle cx="157.82" cy="667.94" r="1.3"/><circle cx="171.3" cy="687.59" r="1.3"/><circle cx="132.06" cy="671.71" r="1.3"/><circle cx="103.03" cy="653.99" r="1.3"/><circle cx="175.38" cy="663.58" r="1.3"/><circle cx="149.48" cy="686.87" r="1.3"/><circle cx="150.32" cy="633.57" r="1.3"/><circle cx="136.8" cy="688.08" r="1.3"/><circle cx="153.82" cy="685.92" r="1.3"/><circle cx="171.05" cy="630.62" r="1.3"/><circle cx="154.8" cy="618.3" r="1.3"/><circle cx="158.5" cy="614.71" r="1.3"/><circle cx="161.6" cy="680.62" r="1.3"/><circle cx="141.33" cy="663.4" r="1.3"/><circle cx="152.77" cy="621.99" r="1.3"/><circle cx="183.4" cy="620.12" r="1.3"/><circle cx="187.68" cy="680.81" r="1.3"/><circle cx="135.01" cy="619.25" r="1.3"/><circle cx="145.04" cy="641.58" r="1.3"/><circle cx="149.9" cy="614.43" r="1.3"/><circle cx="163.28" cy="628.34" r="1.3"/><circle cx="171.43" cy="635.51" r="1.3"/><circle cx="157.14" cy="648.45" r="1.3"/><circle cx="149.69" cy="677.86" r="1.3"/><circle cx="150.63" cy="618.55" r="1.3"/><circle cx="156.53" cy="674.75" r="1.3"/><circle cx="128.32" cy="608.34" r="1.3"/><circle cx="124.91" cy="692.56" r="1.3"/><circle cx="159.37" cy="638.09" r="1.3"/><circle cx="110.37" cy="619.08" r="1.3"/><circle cx="161.28" cy="628.28" r="1.3"/><circle cx="115.06" cy="657.56" r="1.3"/><circle cx="171.76" cy="636.34" r="1.3"/><circle cx="98.61" cy="662.35" r="1.3"/><circle cx="147.89" cy="623.67" r="1.3"/><circle cx="117.66" cy="616.63" r="1.3"/><circle cx="143.58" cy="631.8" r="1.3"/><circle cx="128.18" cy="626.34" r="1.3"/><circle cx="99.32" cy="661.82" r="1.3"/><circle cx="142.44" cy="680.53" r="1.3"/><circle cx="117.88" cy="637.45" r="1.3"/><circle cx="123.43" cy="668.11" r="1.3"/><circle cx="135.01" cy="625.45" r="1.3"/><circle cx="174.65" cy="654.07" r="1.3"/><circle cx="137.2" cy="651" r="1.3"/><circle cx="159.13" cy="628.85" r="1.3"/><circle cx="131.91" cy="641.02" r="1.3"/><circle cx="161.05" cy="629.26" r="1.3"/><circle cx="129.79" cy="661.25" r="1.3"/><circle cx="182.2" cy="606.6" r="1.3"/><circle cx="180" cy="614.8" r="1.3"/><circle cx="177.4" cy="618.8" r="1.3"/><circle cx="182.3" cy="618.8" r="1.3"/><circle cx="190.2" cy="618.8" r="1.3"/><circle cx="180" cy="622.6" r="1.3"/><circle cx="185.6" cy="626.6" r="1.3"/><circle cx="198" cy="628.7" r="1.3"/><circle cx="204" cy="648.4" r="1.3"/><circle cx="193.5" cy="642.9" r="1.3"/><circle cx="194" cy="653.7" r="1.3"/><circle cx="186.2" cy="650.2" r="1.3"/><circle cx="185.3" cy="669.4" r="1.3"/><circle cx="181" cy="685" r="1.3"/><circle cx="173.1" cy="687.7" r="1.3"/><circle cx="163.1" cy="690.8" r="1.3"/><circle cx="174" cy="677.2" r="1.3"/><circle cx="176" cy="667.6" r="1.3"/><circle cx="92.2" cy="670.6" r="1.3"/></g>
<g><line x1="57.8" y1="155.25" x2="61" y2="155.25" stroke="#1a1a1a" stroke-width="1.2"/><line x1="59.4" y1="145.77" x2="61" y2="145.77" stroke="#1a1a1a" stroke-width="0.8"/><line x1="59.4" y1="140.23" x2="61" y2="140.23" stroke="#1a1a1a" stroke-width="0.8"/><line x1="59.4" y1="136.29" x2="61" y2="136.29" stroke="#1a1a1a" stroke-width="0.8"/><line x1="59.4" y1="133.24" x2="61" y2="133.24" stroke="#1a1a1a" stroke-width="0.8"/><line x1="59.4" y1="130.75" x2="61" y2="130.75" stroke="#1a1a1a" stroke-width="0.8"/><line x1="59.4" y1="128.64" x2="61" y2="128.64" stroke="#1a1a1a" stroke-width="0.8"/><line x1="59.4" y1="126.81" x2="61" y2="126.81" stroke="#1a1a1a" stroke-width="0.8"/><line x1="59.4" y1="125.2" x2="61" y2="125.2" stroke="#1a1a1a" stroke-width="0.8"/><line x1="57.8" y1="123.76" x2="61" y2="123.76" stroke="#1a1a1a" stroke-width="1.2"/><line x1="59.4" y1="114.28" x2="61" y2="114.28" stroke="#1a1a1a" stroke-width="0.8"/><line x1="59.4" y1="108.74" x2="61" y2="108.74" stroke="#1a1a1a" stroke-width="0.8"/><line x1="59.4" y1="104.8" x2="61" y2="104.8" stroke="#1a1a1a" stroke-width="0.8"/><line x1="59.4" y1="101.75" x2="61" y2="101.75" stroke="#1a1a1a" stroke-width="0.8"/><line x1="59.4" y1="99.26" x2="61" y2="99.26" stroke="#1a1a1a" stroke-width="0.8"/><line x1="59.4" y1="97.15" x2="61" y2="97.15" stroke="#1a1a1a" stroke-width="0.8"/><line x1="59.4" y1="95.32" x2="61" y2="95.32" stroke="#1a1a1a" stroke-width="0.8"/><line x1="59.4" y1="93.71" x2="61" y2="93.71" stroke="#1a1a1a" stroke-width="0.8"/><line x1="57.8" y1="92.27" x2="61" y2="92.27" stroke="#1a1a1a" stroke-width="1.2"/><line x1="59.4" y1="82.79" x2="61" y2="82.79" stroke="#1a1a1a" stroke-width="0.8"/><line x1="59.4" y1="77.25" x2="61" y2="77.25" stroke="#1a1a1a" stroke-width="0.8"/><line x1="59.4" y1="73.31" x2="61" y2="73.31" stroke="#1a1a1a" stroke-width="0.8"/><line x1="59.4" y1="70.26" x2="61" y2="70.26" stroke="#1a1a1a" stroke-width="0.8"/><line x1="59.4" y1="67.77" x2="61" y2="67.77" stroke="#1a1a1a" stroke-width="0.8"/><line x1="59.4" y1="65.66" x2="61" y2="65.66" stroke="#1a1a1a" stroke-width="0.8"/><line x1="59.4" y1="63.83" x2="61" y2="63.83" stroke="#1a1a1a" stroke-width="0.8"/><line x1="59.4" y1="62.22" x2="61" y2="62.22" stroke="#1a1a1a" stroke-width="0.8"/><line x1="57.8" y1="60.78" x2="61" y2="60.78" stroke="#1a1a1a" stroke-width="1.2"/><line x1="59.4" y1="51.3" x2="61" y2="51.3" stroke="#1a1a1a" stroke-width="0.8"/><line x1="59.4" y1="45.76" x2="61" y2="45.76" stroke="#1a1a1a" stroke-width="0.8"/><line x1="59.4" y1="41.82" x2="61" y2="41.82" stroke="#1a1a1a" stroke-width="0.8"/><line x1="59.4" y1="38.77" x2="61" y2="38.77" stroke="#1a1a1a" stroke-width="0.8"/><line x1="59.4" y1="36.28" x2="61" y2="36.28" stroke="#1a1a1a" stroke-width="0.8"/><line x1="59.4" y1="34.17" x2="61" y2="34.17" stroke="#1a1a1a" stroke-width="0.8"/><line x1="59.4" y1="32.34" x2="61" y2="32.34" stroke="#1a1a1a" stroke-width="0.8"/><line x1="59.4" y1="30.73" x2="61" y2="30.73" stroke="#1a1a1a" stroke-width="0.8"/><line x1="57.8" y1="29.29" x2="61" y2="29.29" stroke="#1a1a1a" stroke-width="1.2"/><line x1="84.5" y1="155.25" x2="84.5" y2="158.6" stroke="#1a1a1a" stroke-width="1.2"/><line x1="131.8" y1="155.25" x2="131.8" y2="158.6" stroke="#1a1a1a" stroke-width="1.2"/><line x1="179" y1="155.25" x2="179" y2="158.6" stroke="#1a1a1a" stroke-width="1.2"/><line x1="226.4" y1="155.25" x2="226.4" y2="158.6" stroke="#1a1a1a" stroke-width="1.2"/><line x1="84.5" y1="85.1" x2="84.5" y2="155.25" stroke="#1a1a1a" stroke-width="1.15"/><line x1="76.8" y1="155.25" x2="92.2" y2="155.25" stroke="#1a1a1a" stroke-width="1.5"/><line x1="76.8" y1="85.1" x2="92.2" y2="85.1" stroke="#1a1a1a" stroke-width="1.3"/><line x1="68.9" y1="111.7" x2="100.1" y2="111.7" stroke="#1a1a1a" stroke-width="1.6"/><line x1="131.8" y1="120" x2="131.8" y2="155.25" stroke="#1a1a1a" stroke-width="1.15"/><line x1="124" y1="155.25" x2="139.6" y2="155.25" stroke="#1a1a1a" stroke-width="1.5"/><line x1="124" y1="120" x2="139.6" y2="120" stroke="#1a1a1a" stroke-width="1.3"/><line x1="116.1" y1="132.2" x2="147.5" y2="132.2" stroke="#1a1a1a" stroke-width="1.6"/><line x1="179" y1="88.3" x2="179" y2="155.25" stroke="#1a1a1a" stroke-width="1.15"/><line x1="171.2" y1="155.25" x2="186.8" y2="155.25" stroke="#1a1a1a" stroke-width="1.5"/><line x1="171.2" y1="88.3" x2="186.8" y2="88.3" stroke="#1a1a1a" stroke-width="1.3"/><line x1="163.2" y1="114.5" x2="194.8" y2="114.5" stroke="#1a1a1a" stroke-width="1.6"/><line x1="226.4" y1="100.4" x2="226.4" y2="155.25" stroke="#1a1a1a" stroke-width="1.15"/><line x1="218.5" y1="155.25" x2="234.3" y2="155.25" stroke="#1a1a1a" stroke-width="1.5"/><line x1="218.5" y1="100.4" x2="234.3" y2="100.4" stroke="#1a1a1a" stroke-width="1.3"/><line x1="210.7" y1="121.4" x2="242.1" y2="121.4" stroke="#1a1a1a" stroke-width="1.6"/><path d="M78.3 46.8V42H124.1V46.8" fill="none" stroke="#222" stroke-width="1.2"/><path d="M126.3 46.8V42H172.2V46.8" fill="none" stroke="#222" stroke-width="1.2"/><path d="M126.3 33.8V29.9H217.5V33.8" fill="none" stroke="#222" stroke-width="1.2"/><line x1="316.8" y1="156.5" x2="320" y2="156.5" stroke="#1a1a1a" stroke-width="1.2"/><line x1="318.4" y1="148.82" x2="320" y2="148.82" stroke="#1a1a1a" stroke-width="0.8"/><line x1="318.4" y1="144.33" x2="320" y2="144.33" stroke="#1a1a1a" stroke-width="0.8"/><line x1="318.4" y1="141.15" x2="320" y2="141.15" stroke="#1a1a1a" stroke-width="0.8"/><line x1="318.4" y1="138.68" x2="320" y2="138.68" stroke="#1a1a1a" stroke-width="0.8"/><line x1="318.4" y1="136.66" x2="320" y2="136.66" stroke="#1a1a1a" stroke-width="0.8"/><line x1="318.4" y1="134.95" x2="320" y2="134.95" stroke="#1a1a1a" stroke-width="0.8"/><line x1="318.4" y1="133.47" x2="320" y2="133.47" stroke="#1a1a1a" stroke-width="0.8"/><line x1="318.4" y1="132.17" x2="320" y2="132.17" stroke="#1a1a1a" stroke-width="0.8"/><line x1="316.8" y1="131" x2="320" y2="131" stroke="#1a1a1a" stroke-width="1.2"/><line x1="318.4" y1="123.32" x2="320" y2="123.32" stroke="#1a1a1a" stroke-width="0.8"/><line x1="318.4" y1="118.83" x2="320" y2="118.83" stroke="#1a1a1a" stroke-width="0.8"/><line x1="318.4" y1="115.65" x2="320" y2="115.65" stroke="#1a1a1a" stroke-width="0.8"/><line x1="318.4" y1="113.18" x2="320" y2="113.18" stroke="#1a1a1a" stroke-width="0.8"/><line x1="318.4" y1="111.16" x2="320" y2="111.16" stroke="#1a1a1a" stroke-width="0.8"/><line x1="318.4" y1="109.45" x2="320" y2="109.45" stroke="#1a1a1a" stroke-width="0.8"/><line x1="318.4" y1="107.97" x2="320" y2="107.97" stroke="#1a1a1a" stroke-width="0.8"/><line x1="318.4" y1="106.67" x2="320" y2="106.67" stroke="#1a1a1a" stroke-width="0.8"/><line x1="316.8" y1="105.5" x2="320" y2="105.5" stroke="#1a1a1a" stroke-width="1.2"/><line x1="318.4" y1="97.82" x2="320" y2="97.82" stroke="#1a1a1a" stroke-width="0.8"/><line x1="318.4" y1="93.33" x2="320" y2="93.33" stroke="#1a1a1a" stroke-width="0.8"/><line x1="318.4" y1="90.15" x2="320" y2="90.15" stroke="#1a1a1a" stroke-width="0.8"/><line x1="318.4" y1="87.68" x2="320" y2="87.68" stroke="#1a1a1a" stroke-width="0.8"/><line x1="318.4" y1="85.66" x2="320" y2="85.66" stroke="#1a1a1a" stroke-width="0.8"/><line x1="318.4" y1="83.95" x2="320" y2="83.95" stroke="#1a1a1a" stroke-width="0.8"/><line x1="318.4" y1="82.47" x2="320" y2="82.47" stroke="#1a1a1a" stroke-width="0.8"/><line x1="318.4" y1="81.17" x2="320" y2="81.17" stroke="#1a1a1a" stroke-width="0.8"/><line x1="316.8" y1="80" x2="320" y2="80" stroke="#1a1a1a" stroke-width="1.2"/><line x1="318.4" y1="72.32" x2="320" y2="72.32" stroke="#1a1a1a" stroke-width="0.8"/><line x1="318.4" y1="67.83" x2="320" y2="67.83" stroke="#1a1a1a" stroke-width="0.8"/><line x1="318.4" y1="64.65" x2="320" y2="64.65" stroke="#1a1a1a" stroke-width="0.8"/><line x1="318.4" y1="62.18" x2="320" y2="62.18" stroke="#1a1a1a" stroke-width="0.8"/><line x1="318.4" y1="60.16" x2="320" y2="60.16" stroke="#1a1a1a" stroke-width="0.8"/><line x1="318.4" y1="58.45" x2="320" y2="58.45" stroke="#1a1a1a" stroke-width="0.8"/><line x1="318.4" y1="56.97" x2="320" y2="56.97" stroke="#1a1a1a" stroke-width="0.8"/><line x1="318.4" y1="55.67" x2="320" y2="55.67" stroke="#1a1a1a" stroke-width="0.8"/><line x1="316.8" y1="54.5" x2="320" y2="54.5" stroke="#1a1a1a" stroke-width="1.2"/><line x1="318.4" y1="46.82" x2="320" y2="46.82" stroke="#1a1a1a" stroke-width="0.8"/><line x1="318.4" y1="42.33" x2="320" y2="42.33" stroke="#1a1a1a" stroke-width="0.8"/><line x1="318.4" y1="39.15" x2="320" y2="39.15" stroke="#1a1a1a" stroke-width="0.8"/><line x1="318.4" y1="36.68" x2="320" y2="36.68" stroke="#1a1a1a" stroke-width="0.8"/><line x1="318.4" y1="34.66" x2="320" y2="34.66" stroke="#1a1a1a" stroke-width="0.8"/><line x1="318.4" y1="32.95" x2="320" y2="32.95" stroke="#1a1a1a" stroke-width="0.8"/><line x1="318.4" y1="31.47" x2="320" y2="31.47" stroke="#1a1a1a" stroke-width="0.8"/><line x1="318.4" y1="30.17" x2="320" y2="30.17" stroke="#1a1a1a" stroke-width="0.8"/><line x1="316.8" y1="29" x2="320" y2="29" stroke="#1a1a1a" stroke-width="1.2"/><line x1="343.8" y1="156.5" x2="343.8" y2="159.8" stroke="#1a1a1a" stroke-width="1.2"/><line x1="391.8" y1="156.5" x2="391.8" y2="159.8" stroke="#1a1a1a" stroke-width="1.2"/><line x1="439.6" y1="156.5" x2="439.6" y2="159.8" stroke="#1a1a1a" stroke-width="1.2"/><line x1="487.5" y1="156.5" x2="487.5" y2="159.8" stroke="#1a1a1a" stroke-width="1.2"/><line x1="343.8" y1="80.4" x2="343.8" y2="156.5" stroke="#1a1a1a" stroke-width="1.15"/><line x1="335.9" y1="80.4" x2="351.7" y2="80.4" stroke="#1a1a1a" stroke-width="1.3"/><line x1="328.2" y1="89.6" x2="359.4" y2="89.6" stroke="#1a1a1a" stroke-width="1.6"/><line x1="391.8" y1="60.3" x2="391.8" y2="156.5" stroke="#1a1a1a" stroke-width="1.15"/><line x1="383.8" y1="60.3" x2="399.8" y2="60.3" stroke="#1a1a1a" stroke-width="1.3"/><line x1="375.8" y1="75.5" x2="407.8" y2="75.5" stroke="#1a1a1a" stroke-width="1.6"/><line x1="439.6" y1="77.9" x2="439.6" y2="156.5" stroke="#1a1a1a" stroke-width="1.15"/><line x1="432" y1="77.9" x2="447.2" y2="77.9" stroke="#1a1a1a" stroke-width="1.3"/><line x1="424" y1="88.3" x2="455.2" y2="88.3" stroke="#1a1a1a" stroke-width="1.6"/><line x1="487.5" y1="81.6" x2="487.5" y2="104.2" stroke="#1a1a1a" stroke-width="1.15"/><line x1="479.8" y1="81.6" x2="495.2" y2="81.6" stroke="#1a1a1a" stroke-width="1.3"/><line x1="471.9" y1="87.9" x2="503.1" y2="87.9" stroke="#1a1a1a" stroke-width="1.6"/><line x1="479.8" y1="104.2" x2="495.2" y2="104.2" stroke="#1a1a1a" stroke-width="1.3"/><path d="M345 41.4V36.6H391.3V41.4" fill="none" stroke="#222" stroke-width="1.2"/><path d="M395.5 41.4V36.6H441.75V41.4" fill="none" stroke="#222" stroke-width="1.2"/><line x1="57.8" y1="346.5" x2="61" y2="346.5" stroke="#1a1a1a" stroke-width="1.2"/><line x1="59.4" y1="337.11" x2="61" y2="337.11" stroke="#1a1a1a" stroke-width="0.8"/><line x1="59.4" y1="331.62" x2="61" y2="331.62" stroke="#1a1a1a" stroke-width="0.8"/><line x1="59.4" y1="327.72" x2="61" y2="327.72" stroke="#1a1a1a" stroke-width="0.8"/><line x1="59.4" y1="324.7" x2="61" y2="324.7" stroke="#1a1a1a" stroke-width="0.8"/><line x1="59.4" y1="322.23" x2="61" y2="322.23" stroke="#1a1a1a" stroke-width="0.8"/><line x1="59.4" y1="320.14" x2="61" y2="320.14" stroke="#1a1a1a" stroke-width="0.8"/><line x1="59.4" y1="318.33" x2="61" y2="318.33" stroke="#1a1a1a" stroke-width="0.8"/><line x1="59.4" y1="316.74" x2="61" y2="316.74" stroke="#1a1a1a" stroke-width="0.8"/><line x1="57.8" y1="315.31" x2="61" y2="315.31" stroke="#1a1a1a" stroke-width="1.2"/><line x1="59.4" y1="305.92" x2="61" y2="305.92" stroke="#1a1a1a" stroke-width="0.8"/><line x1="59.4" y1="300.43" x2="61" y2="300.43" stroke="#1a1a1a" stroke-width="0.8"/><line x1="59.4" y1="296.53" x2="61" y2="296.53" stroke="#1a1a1a" stroke-width="0.8"/><line x1="59.4" y1="293.51" x2="61" y2="293.51" stroke="#1a1a1a" stroke-width="0.8"/><line x1="59.4" y1="291.04" x2="61" y2="291.04" stroke="#1a1a1a" stroke-width="0.8"/><line x1="59.4" y1="288.95" x2="61" y2="288.95" stroke="#1a1a1a" stroke-width="0.8"/><line x1="59.4" y1="287.14" x2="61" y2="287.14" stroke="#1a1a1a" stroke-width="0.8"/><line x1="59.4" y1="285.55" x2="61" y2="285.55" stroke="#1a1a1a" stroke-width="0.8"/><line x1="57.8" y1="284.12" x2="61" y2="284.12" stroke="#1a1a1a" stroke-width="1.2"/><line x1="59.4" y1="274.73" x2="61" y2="274.73" stroke="#1a1a1a" stroke-width="0.8"/><line x1="59.4" y1="269.24" x2="61" y2="269.24" stroke="#1a1a1a" stroke-width="0.8"/><line x1="59.4" y1="265.34" x2="61" y2="265.34" stroke="#1a1a1a" stroke-width="0.8"/><line x1="59.4" y1="262.32" x2="61" y2="262.32" stroke="#1a1a1a" stroke-width="0.8"/><line x1="59.4" y1="259.85" x2="61" y2="259.85" stroke="#1a1a1a" stroke-width="0.8"/><line x1="59.4" y1="257.76" x2="61" y2="257.76" stroke="#1a1a1a" stroke-width="0.8"/><line x1="59.4" y1="255.95" x2="61" y2="255.95" stroke="#1a1a1a" stroke-width="0.8"/><line x1="59.4" y1="254.36" x2="61" y2="254.36" stroke="#1a1a1a" stroke-width="0.8"/><line x1="57.8" y1="252.93" x2="61" y2="252.93" stroke="#1a1a1a" stroke-width="1.2"/><line x1="59.4" y1="243.54" x2="61" y2="243.54" stroke="#1a1a1a" stroke-width="0.8"/><line x1="59.4" y1="238.05" x2="61" y2="238.05" stroke="#1a1a1a" stroke-width="0.8"/><line x1="59.4" y1="234.15" x2="61" y2="234.15" stroke="#1a1a1a" stroke-width="0.8"/><line x1="59.4" y1="231.13" x2="61" y2="231.13" stroke="#1a1a1a" stroke-width="0.8"/><line x1="59.4" y1="228.66" x2="61" y2="228.66" stroke="#1a1a1a" stroke-width="0.8"/><line x1="59.4" y1="226.57" x2="61" y2="226.57" stroke="#1a1a1a" stroke-width="0.8"/><line x1="59.4" y1="224.76" x2="61" y2="224.76" stroke="#1a1a1a" stroke-width="0.8"/><line x1="59.4" y1="223.17" x2="61" y2="223.17" stroke="#1a1a1a" stroke-width="0.8"/><line x1="57.8" y1="221.74" x2="61" y2="221.74" stroke="#1a1a1a" stroke-width="1.2"/><line x1="92.4" y1="346.5" x2="92.4" y2="349.8" stroke="#1a1a1a" stroke-width="1.2"/><line x1="154.6" y1="346.5" x2="154.6" y2="349.8" stroke="#1a1a1a" stroke-width="1.2"/><line x1="92.4" y1="277" x2="92.4" y2="346.5" stroke="#1a1a1a" stroke-width="1.15"/><line x1="82" y1="346.5" x2="102.8" y2="346.5" stroke="#1a1a1a" stroke-width="1.5"/><line x1="82" y1="277" x2="102.8" y2="277" stroke="#1a1a1a" stroke-width="1.3"/><line x1="71.6" y1="302.8" x2="113.2" y2="302.8" stroke="#1a1a1a" stroke-width="1.6"/><line x1="154.6" y1="283" x2="154.6" y2="346.5" stroke="#1a1a1a" stroke-width="1.15"/><line x1="144.2" y1="346.5" x2="165" y2="346.5" stroke="#1a1a1a" stroke-width="1.5"/><line x1="144.2" y1="283" x2="165" y2="283" stroke="#1a1a1a" stroke-width="1.3"/><line x1="133.7" y1="309.7" x2="175.5" y2="309.7" stroke="#1a1a1a" stroke-width="1.6"/><path d="M92.5 235.8V230.75H156.75V235.8" fill="none" stroke="#222" stroke-width="1.2"/><line x1="317.05" y1="346.5" x2="320.25" y2="346.5" stroke="#1a1a1a" stroke-width="1.2"/><line x1="318.65" y1="338.91" x2="320.25" y2="338.91" stroke="#1a1a1a" stroke-width="0.8"/><line x1="318.65" y1="334.48" x2="320.25" y2="334.48" stroke="#1a1a1a" stroke-width="0.8"/><line x1="318.65" y1="331.33" x2="320.25" y2="331.33" stroke="#1a1a1a" stroke-width="0.8"/><line x1="318.65" y1="328.89" x2="320.25" y2="328.89" stroke="#1a1a1a" stroke-width="0.8"/><line x1="318.65" y1="326.89" x2="320.25" y2="326.89" stroke="#1a1a1a" stroke-width="0.8"/><line x1="318.65" y1="325.2" x2="320.25" y2="325.2" stroke="#1a1a1a" stroke-width="0.8"/><line x1="318.65" y1="323.74" x2="320.25" y2="323.74" stroke="#1a1a1a" stroke-width="0.8"/><line x1="318.65" y1="322.45" x2="320.25" y2="322.45" stroke="#1a1a1a" stroke-width="0.8"/><line x1="317.05" y1="321.3" x2="320.25" y2="321.3" stroke="#1a1a1a" stroke-width="1.2"/><line x1="318.65" y1="313.71" x2="320.25" y2="313.71" stroke="#1a1a1a" stroke-width="0.8"/><line x1="318.65" y1="309.28" x2="320.25" y2="309.28" stroke="#1a1a1a" stroke-width="0.8"/><line x1="318.65" y1="306.13" x2="320.25" y2="306.13" stroke="#1a1a1a" stroke-width="0.8"/><line x1="318.65" y1="303.69" x2="320.25" y2="303.69" stroke="#1a1a1a" stroke-width="0.8"/><line x1="318.65" y1="301.69" x2="320.25" y2="301.69" stroke="#1a1a1a" stroke-width="0.8"/><line x1="318.65" y1="300" x2="320.25" y2="300" stroke="#1a1a1a" stroke-width="0.8"/><line x1="318.65" y1="298.54" x2="320.25" y2="298.54" stroke="#1a1a1a" stroke-width="0.8"/><line x1="318.65" y1="297.25" x2="320.25" y2="297.25" stroke="#1a1a1a" stroke-width="0.8"/><line x1="317.05" y1="296.1" x2="320.25" y2="296.1" stroke="#1a1a1a" stroke-width="1.2"/><line x1="318.65" y1="288.51" x2="320.25" y2="288.51" stroke="#1a1a1a" stroke-width="0.8"/><line x1="318.65" y1="284.08" x2="320.25" y2="284.08" stroke="#1a1a1a" stroke-width="0.8"/><line x1="318.65" y1="280.93" x2="320.25" y2="280.93" stroke="#1a1a1a" stroke-width="0.8"/><line x1="318.65" y1="278.49" x2="320.25" y2="278.49" stroke="#1a1a1a" stroke-width="0.8"/><line x1="318.65" y1="276.49" x2="320.25" y2="276.49" stroke="#1a1a1a" stroke-width="0.8"/><line x1="318.65" y1="274.8" x2="320.25" y2="274.8" stroke="#1a1a1a" stroke-width="0.8"/><line x1="318.65" y1="273.34" x2="320.25" y2="273.34" stroke="#1a1a1a" stroke-width="0.8"/><line x1="318.65" y1="272.05" x2="320.25" y2="272.05" stroke="#1a1a1a" stroke-width="0.8"/><line x1="317.05" y1="270.9" x2="320.25" y2="270.9" stroke="#1a1a1a" stroke-width="1.2"/><line x1="318.65" y1="263.31" x2="320.25" y2="263.31" stroke="#1a1a1a" stroke-width="0.8"/><line x1="318.65" y1="258.88" x2="320.25" y2="258.88" stroke="#1a1a1a" stroke-width="0.8"/><line x1="318.65" y1="255.73" x2="320.25" y2="255.73" stroke="#1a1a1a" stroke-width="0.8"/><line x1="318.65" y1="253.29" x2="320.25" y2="253.29" stroke="#1a1a1a" stroke-width="0.8"/><line x1="318.65" y1="251.29" x2="320.25" y2="251.29" stroke="#1a1a1a" stroke-width="0.8"/><line x1="318.65" y1="249.6" x2="320.25" y2="249.6" stroke="#1a1a1a" stroke-width="0.8"/><line x1="318.65" y1="248.14" x2="320.25" y2="248.14" stroke="#1a1a1a" stroke-width="0.8"/><line x1="318.65" y1="246.85" x2="320.25" y2="246.85" stroke="#1a1a1a" stroke-width="0.8"/><line x1="317.05" y1="245.7" x2="320.25" y2="245.7" stroke="#1a1a1a" stroke-width="1.2"/><line x1="318.65" y1="238.11" x2="320.25" y2="238.11" stroke="#1a1a1a" stroke-width="0.8"/><line x1="318.65" y1="233.68" x2="320.25" y2="233.68" stroke="#1a1a1a" stroke-width="0.8"/><line x1="318.65" y1="230.53" x2="320.25" y2="230.53" stroke="#1a1a1a" stroke-width="0.8"/><line x1="318.65" y1="228.09" x2="320.25" y2="228.09" stroke="#1a1a1a" stroke-width="0.8"/><line x1="318.65" y1="226.09" x2="320.25" y2="226.09" stroke="#1a1a1a" stroke-width="0.8"/><line x1="318.65" y1="224.4" x2="320.25" y2="224.4" stroke="#1a1a1a" stroke-width="0.8"/><line x1="318.65" y1="222.94" x2="320.25" y2="222.94" stroke="#1a1a1a" stroke-width="0.8"/><line x1="318.65" y1="221.65" x2="320.25" y2="221.65" stroke="#1a1a1a" stroke-width="0.8"/><line x1="317.05" y1="220.5" x2="320.25" y2="220.5" stroke="#1a1a1a" stroke-width="1.2"/><line x1="351.5" y1="346.5" x2="351.5" y2="349.8" stroke="#1a1a1a" stroke-width="1.2"/><line x1="414.8" y1="346.5" x2="414.8" y2="349.8" stroke="#1a1a1a" stroke-width="1.2"/><line x1="351.5" y1="272.5" x2="351.5" y2="346.5" stroke="#1a1a1a" stroke-width="1.15"/><line x1="341.2" y1="272.5" x2="361.8" y2="272.5" stroke="#1a1a1a" stroke-width="1.3"/><line x1="331" y1="281.4" x2="372" y2="281.4" stroke="#1a1a1a" stroke-width="1.6"/><line x1="414.8" y1="262.2" x2="414.8" y2="346.5" stroke="#1a1a1a" stroke-width="1.15"/><line x1="404.7" y1="262.2" x2="424.9" y2="262.2" stroke="#1a1a1a" stroke-width="1.3"/><line x1="394" y1="275.8" x2="435.6" y2="275.8" stroke="#1a1a1a" stroke-width="1.6"/><path d="M349.25 231.3V226.5H413.6V231.3" fill="none" stroke="#222" stroke-width="1.2"/><line x1="57.8" y1="525.5" x2="61" y2="525.5" stroke="#1a1a1a" stroke-width="1.2"/><line x1="59.4" y1="519.73" x2="61" y2="519.73" stroke="#1a1a1a" stroke-width="0.8"/><line x1="59.4" y1="516.35" x2="61" y2="516.35" stroke="#1a1a1a" stroke-width="0.8"/><line x1="59.4" y1="513.96" x2="61" y2="513.96" stroke="#1a1a1a" stroke-width="0.8"/><line x1="59.4" y1="512.1" x2="61" y2="512.1" stroke="#1a1a1a" stroke-width="0.8"/><line x1="59.4" y1="510.58" x2="61" y2="510.58" stroke="#1a1a1a" stroke-width="0.8"/><line x1="59.4" y1="509.3" x2="61" y2="509.3" stroke="#1a1a1a" stroke-width="0.8"/><line x1="59.4" y1="508.19" x2="61" y2="508.19" stroke="#1a1a1a" stroke-width="0.8"/><line x1="59.4" y1="507.21" x2="61" y2="507.21" stroke="#1a1a1a" stroke-width="0.8"/><line x1="57.8" y1="506.33" x2="61" y2="506.33" stroke="#1a1a1a" stroke-width="1.2"/><line x1="59.4" y1="500.56" x2="61" y2="500.56" stroke="#1a1a1a" stroke-width="0.8"/><line x1="59.4" y1="497.18" x2="61" y2="497.18" stroke="#1a1a1a" stroke-width="0.8"/><line x1="59.4" y1="494.79" x2="61" y2="494.79" stroke="#1a1a1a" stroke-width="0.8"/><line x1="59.4" y1="492.93" x2="61" y2="492.93" stroke="#1a1a1a" stroke-width="0.8"/><line x1="59.4" y1="491.41" x2="61" y2="491.41" stroke="#1a1a1a" stroke-width="0.8"/><line x1="59.4" y1="490.13" x2="61" y2="490.13" stroke="#1a1a1a" stroke-width="0.8"/><line x1="59.4" y1="489.02" x2="61" y2="489.02" stroke="#1a1a1a" stroke-width="0.8"/><line x1="59.4" y1="488.04" x2="61" y2="488.04" stroke="#1a1a1a" stroke-width="0.8"/><line x1="57.8" y1="487.16" x2="61" y2="487.16" stroke="#1a1a1a" stroke-width="1.2"/><line x1="59.4" y1="481.39" x2="61" y2="481.39" stroke="#1a1a1a" stroke-width="0.8"/><line x1="59.4" y1="478.01" x2="61" y2="478.01" stroke="#1a1a1a" stroke-width="0.8"/><line x1="59.4" y1="475.62" x2="61" y2="475.62" stroke="#1a1a1a" stroke-width="0.8"/><line x1="59.4" y1="473.76" x2="61" y2="473.76" stroke="#1a1a1a" stroke-width="0.8"/><line x1="59.4" y1="472.24" x2="61" y2="472.24" stroke="#1a1a1a" stroke-width="0.8"/><line x1="59.4" y1="470.96" x2="61" y2="470.96" stroke="#1a1a1a" stroke-width="0.8"/><line x1="59.4" y1="469.85" x2="61" y2="469.85" stroke="#1a1a1a" stroke-width="0.8"/><line x1="59.4" y1="468.87" x2="61" y2="468.87" stroke="#1a1a1a" stroke-width="0.8"/><line x1="57.8" y1="467.99" x2="61" y2="467.99" stroke="#1a1a1a" stroke-width="1.2"/><line x1="59.4" y1="462.22" x2="61" y2="462.22" stroke="#1a1a1a" stroke-width="0.8"/><line x1="59.4" y1="458.84" x2="61" y2="458.84" stroke="#1a1a1a" stroke-width="0.8"/><line x1="59.4" y1="456.45" x2="61" y2="456.45" stroke="#1a1a1a" stroke-width="0.8"/><line x1="59.4" y1="454.59" x2="61" y2="454.59" stroke="#1a1a1a" stroke-width="0.8"/><line x1="59.4" y1="453.07" x2="61" y2="453.07" stroke="#1a1a1a" stroke-width="0.8"/><line x1="59.4" y1="451.79" x2="61" y2="451.79" stroke="#1a1a1a" stroke-width="0.8"/><line x1="59.4" y1="450.68" x2="61" y2="450.68" stroke="#1a1a1a" stroke-width="0.8"/><line x1="59.4" y1="449.7" x2="61" y2="449.7" stroke="#1a1a1a" stroke-width="0.8"/><line x1="57.8" y1="448.82" x2="61" y2="448.82" stroke="#1a1a1a" stroke-width="1.2"/><line x1="59.4" y1="443.05" x2="61" y2="443.05" stroke="#1a1a1a" stroke-width="0.8"/><line x1="59.4" y1="439.67" x2="61" y2="439.67" stroke="#1a1a1a" stroke-width="0.8"/><line x1="59.4" y1="437.28" x2="61" y2="437.28" stroke="#1a1a1a" stroke-width="0.8"/><line x1="59.4" y1="435.42" x2="61" y2="435.42" stroke="#1a1a1a" stroke-width="0.8"/><line x1="59.4" y1="433.9" x2="61" y2="433.9" stroke="#1a1a1a" stroke-width="0.8"/><line x1="59.4" y1="432.62" x2="61" y2="432.62" stroke="#1a1a1a" stroke-width="0.8"/><line x1="59.4" y1="431.51" x2="61" y2="431.51" stroke="#1a1a1a" stroke-width="0.8"/><line x1="59.4" y1="430.53" x2="61" y2="430.53" stroke="#1a1a1a" stroke-width="0.8"/><line x1="57.8" y1="429.65" x2="61" y2="429.65" stroke="#1a1a1a" stroke-width="1.2"/><line x1="59.4" y1="423.88" x2="61" y2="423.88" stroke="#1a1a1a" stroke-width="0.8"/><line x1="59.4" y1="420.5" x2="61" y2="420.5" stroke="#1a1a1a" stroke-width="0.8"/><line x1="59.4" y1="418.11" x2="61" y2="418.11" stroke="#1a1a1a" stroke-width="0.8"/><line x1="59.4" y1="416.25" x2="61" y2="416.25" stroke="#1a1a1a" stroke-width="0.8"/><line x1="59.4" y1="414.73" x2="61" y2="414.73" stroke="#1a1a1a" stroke-width="0.8"/><line x1="59.4" y1="413.45" x2="61" y2="413.45" stroke="#1a1a1a" stroke-width="0.8"/><line x1="59.4" y1="412.34" x2="61" y2="412.34" stroke="#1a1a1a" stroke-width="0.8"/><line x1="59.4" y1="411.36" x2="61" y2="411.36" stroke="#1a1a1a" stroke-width="0.8"/><line x1="57.8" y1="410.48" x2="61" y2="410.48" stroke="#1a1a1a" stroke-width="1.2"/><line x1="73.5" y1="525.5" x2="73.5" y2="528.7" stroke="#1a1a1a" stroke-width="1.2"/><line x1="98.2" y1="525.5" x2="98.2" y2="528.7" stroke="#1a1a1a" stroke-width="1.2"/><line x1="122.9" y1="525.5" x2="122.9" y2="528.7" stroke="#1a1a1a" stroke-width="1.2"/><line x1="147.6" y1="525.5" x2="147.6" y2="528.7" stroke="#1a1a1a" stroke-width="1.2"/><line x1="172.3" y1="525.5" x2="172.3" y2="528.7" stroke="#1a1a1a" stroke-width="1.2"/><line x1="197" y1="525.5" x2="197" y2="528.7" stroke="#1a1a1a" stroke-width="1.2"/><line x1="221.7" y1="525.5" x2="221.7" y2="528.7" stroke="#1a1a1a" stroke-width="1.2"/><line x1="85.85" y1="525.5" x2="85.85" y2="527.5" stroke="#1a1a1a" stroke-width="1"/><line x1="110.55" y1="525.5" x2="110.55" y2="527.5" stroke="#1a1a1a" stroke-width="1"/><line x1="135.25" y1="525.5" x2="135.25" y2="527.5" stroke="#1a1a1a" stroke-width="1"/><line x1="159.95" y1="525.5" x2="159.95" y2="527.5" stroke="#1a1a1a" stroke-width="1"/><line x1="184.65" y1="525.5" x2="184.65" y2="527.5" stroke="#1a1a1a" stroke-width="1"/><line x1="209.35" y1="525.5" x2="209.35" y2="527.5" stroke="#1a1a1a" stroke-width="1"/><line x1="68.75" y1="482.2" x2="195.3" y2="480.5" stroke="#8a8a8a" stroke-width="1.3"/><line x1="317.05" y1="525.5" x2="320.25" y2="525.5" stroke="#1a1a1a" stroke-width="1.2"/><line x1="318.65" y1="519.73" x2="320.25" y2="519.73" stroke="#1a1a1a" stroke-width="0.8"/><line x1="318.65" y1="516.35" x2="320.25" y2="516.35" stroke="#1a1a1a" stroke-width="0.8"/><line x1="318.65" y1="513.96" x2="320.25" y2="513.96" stroke="#1a1a1a" stroke-width="0.8"/><line x1="318.65" y1="512.1" x2="320.25" y2="512.1" stroke="#1a1a1a" stroke-width="0.8"/><line x1="318.65" y1="510.58" x2="320.25" y2="510.58" stroke="#1a1a1a" stroke-width="0.8"/><line x1="318.65" y1="509.3" x2="320.25" y2="509.3" stroke="#1a1a1a" stroke-width="0.8"/><line x1="318.65" y1="508.19" x2="320.25" y2="508.19" stroke="#1a1a1a" stroke-width="0.8"/><line x1="318.65" y1="507.21" x2="320.25" y2="507.21" stroke="#1a1a1a" stroke-width="0.8"/><line x1="317.05" y1="506.33" x2="320.25" y2="506.33" stroke="#1a1a1a" stroke-width="1.2"/><line x1="318.65" y1="500.56" x2="320.25" y2="500.56" stroke="#1a1a1a" stroke-width="0.8"/><line x1="318.65" y1="497.18" x2="320.25" y2="497.18" stroke="#1a1a1a" stroke-width="0.8"/><line x1="318.65" y1="494.79" x2="320.25" y2="494.79" stroke="#1a1a1a" stroke-width="0.8"/><line x1="318.65" y1="492.93" x2="320.25" y2="492.93" stroke="#1a1a1a" stroke-width="0.8"/><line x1="318.65" y1="491.41" x2="320.25" y2="491.41" stroke="#1a1a1a" stroke-width="0.8"/><line x1="318.65" y1="490.13" x2="320.25" y2="490.13" stroke="#1a1a1a" stroke-width="0.8"/><line x1="318.65" y1="489.02" x2="320.25" y2="489.02" stroke="#1a1a1a" stroke-width="0.8"/><line x1="318.65" y1="488.04" x2="320.25" y2="488.04" stroke="#1a1a1a" stroke-width="0.8"/><line x1="317.05" y1="487.16" x2="320.25" y2="487.16" stroke="#1a1a1a" stroke-width="1.2"/><line x1="318.65" y1="481.39" x2="320.25" y2="481.39" stroke="#1a1a1a" stroke-width="0.8"/><line x1="318.65" y1="478.01" x2="320.25" y2="478.01" stroke="#1a1a1a" stroke-width="0.8"/><line x1="318.65" y1="475.62" x2="320.25" y2="475.62" stroke="#1a1a1a" stroke-width="0.8"/><line x1="318.65" y1="473.76" x2="320.25" y2="473.76" stroke="#1a1a1a" stroke-width="0.8"/><line x1="318.65" y1="472.24" x2="320.25" y2="472.24" stroke="#1a1a1a" stroke-width="0.8"/><line x1="318.65" y1="470.96" x2="320.25" y2="470.96" stroke="#1a1a1a" stroke-width="0.8"/><line x1="318.65" y1="469.85" x2="320.25" y2="469.85" stroke="#1a1a1a" stroke-width="0.8"/><line x1="318.65" y1="468.87" x2="320.25" y2="468.87" stroke="#1a1a1a" stroke-width="0.8"/><line x1="317.05" y1="467.99" x2="320.25" y2="467.99" stroke="#1a1a1a" stroke-width="1.2"/><line x1="318.65" y1="462.22" x2="320.25" y2="462.22" stroke="#1a1a1a" stroke-width="0.8"/><line x1="318.65" y1="458.84" x2="320.25" y2="458.84" stroke="#1a1a1a" stroke-width="0.8"/><line x1="318.65" y1="456.45" x2="320.25" y2="456.45" stroke="#1a1a1a" stroke-width="0.8"/><line x1="318.65" y1="454.59" x2="320.25" y2="454.59" stroke="#1a1a1a" stroke-width="0.8"/><line x1="318.65" y1="453.07" x2="320.25" y2="453.07" stroke="#1a1a1a" stroke-width="0.8"/><line x1="318.65" y1="451.79" x2="320.25" y2="451.79" stroke="#1a1a1a" stroke-width="0.8"/><line x1="318.65" y1="450.68" x2="320.25" y2="450.68" stroke="#1a1a1a" stroke-width="0.8"/><line x1="318.65" y1="449.7" x2="320.25" y2="449.7" stroke="#1a1a1a" stroke-width="0.8"/><line x1="317.05" y1="448.82" x2="320.25" y2="448.82" stroke="#1a1a1a" stroke-width="1.2"/><line x1="318.65" y1="443.05" x2="320.25" y2="443.05" stroke="#1a1a1a" stroke-width="0.8"/><line x1="318.65" y1="439.67" x2="320.25" y2="439.67" stroke="#1a1a1a" stroke-width="0.8"/><line x1="318.65" y1="437.28" x2="320.25" y2="437.28" stroke="#1a1a1a" stroke-width="0.8"/><line x1="318.65" y1="435.42" x2="320.25" y2="435.42" stroke="#1a1a1a" stroke-width="0.8"/><line x1="318.65" y1="433.9" x2="320.25" y2="433.9" stroke="#1a1a1a" stroke-width="0.8"/><line x1="318.65" y1="432.62" x2="320.25" y2="432.62" stroke="#1a1a1a" stroke-width="0.8"/><line x1="318.65" y1="431.51" x2="320.25" y2="431.51" stroke="#1a1a1a" stroke-width="0.8"/><line x1="318.65" y1="430.53" x2="320.25" y2="430.53" stroke="#1a1a1a" stroke-width="0.8"/><line x1="317.05" y1="429.65" x2="320.25" y2="429.65" stroke="#1a1a1a" stroke-width="1.2"/><line x1="318.65" y1="423.88" x2="320.25" y2="423.88" stroke="#1a1a1a" stroke-width="0.8"/><line x1="318.65" y1="420.5" x2="320.25" y2="420.5" stroke="#1a1a1a" stroke-width="0.8"/><line x1="318.65" y1="418.11" x2="320.25" y2="418.11" stroke="#1a1a1a" stroke-width="0.8"/><line x1="318.65" y1="416.25" x2="320.25" y2="416.25" stroke="#1a1a1a" stroke-width="0.8"/><line x1="318.65" y1="414.73" x2="320.25" y2="414.73" stroke="#1a1a1a" stroke-width="0.8"/><line x1="318.65" y1="413.45" x2="320.25" y2="413.45" stroke="#1a1a1a" stroke-width="0.8"/><line x1="318.65" y1="412.34" x2="320.25" y2="412.34" stroke="#1a1a1a" stroke-width="0.8"/><line x1="318.65" y1="411.36" x2="320.25" y2="411.36" stroke="#1a1a1a" stroke-width="0.8"/><line x1="317.05" y1="410.48" x2="320.25" y2="410.48" stroke="#1a1a1a" stroke-width="1.2"/><line x1="333.4" y1="525.5" x2="333.4" y2="528.7" stroke="#1a1a1a" stroke-width="1.2"/><line x1="359.67" y1="525.5" x2="359.67" y2="528.7" stroke="#1a1a1a" stroke-width="1.2"/><line x1="385.94" y1="525.5" x2="385.94" y2="528.7" stroke="#1a1a1a" stroke-width="1.2"/><line x1="412.21" y1="525.5" x2="412.21" y2="528.7" stroke="#1a1a1a" stroke-width="1.2"/><line x1="438.48" y1="525.5" x2="438.48" y2="528.7" stroke="#1a1a1a" stroke-width="1.2"/><line x1="464.75" y1="525.5" x2="464.75" y2="528.7" stroke="#1a1a1a" stroke-width="1.2"/><line x1="491.02" y1="525.5" x2="491.02" y2="528.7" stroke="#1a1a1a" stroke-width="1.2"/><line x1="346.53" y1="525.5" x2="346.53" y2="527.5" stroke="#1a1a1a" stroke-width="1"/><line x1="372.8" y1="525.5" x2="372.8" y2="527.5" stroke="#1a1a1a" stroke-width="1"/><line x1="399.07" y1="525.5" x2="399.07" y2="527.5" stroke="#1a1a1a" stroke-width="1"/><line x1="425.34" y1="525.5" x2="425.34" y2="527.5" stroke="#1a1a1a" stroke-width="1"/><line x1="451.61" y1="525.5" x2="451.61" y2="527.5" stroke="#1a1a1a" stroke-width="1"/><line x1="477.88" y1="525.5" x2="477.88" y2="527.5" stroke="#1a1a1a" stroke-width="1"/><line x1="328.5" y1="454.8" x2="464.3" y2="453.8" stroke="#8a8a8a" stroke-width="1.3"/><line x1="57.8" y1="707.75" x2="61" y2="707.75" stroke="#1a1a1a" stroke-width="1.2"/><line x1="59.4" y1="700.62" x2="61" y2="700.62" stroke="#1a1a1a" stroke-width="0.8"/><line x1="59.4" y1="696.44" x2="61" y2="696.44" stroke="#1a1a1a" stroke-width="0.8"/><line x1="59.4" y1="693.48" x2="61" y2="693.48" stroke="#1a1a1a" stroke-width="0.8"/><line x1="59.4" y1="691.18" x2="61" y2="691.18" stroke="#1a1a1a" stroke-width="0.8"/><line x1="59.4" y1="689.31" x2="61" y2="689.31" stroke="#1a1a1a" stroke-width="0.8"/><line x1="59.4" y1="687.72" x2="61" y2="687.72" stroke="#1a1a1a" stroke-width="0.8"/><line x1="59.4" y1="686.35" x2="61" y2="686.35" stroke="#1a1a1a" stroke-width="0.8"/><line x1="59.4" y1="685.13" x2="61" y2="685.13" stroke="#1a1a1a" stroke-width="0.8"/><line x1="57.8" y1="684.05" x2="61" y2="684.05" stroke="#1a1a1a" stroke-width="1.2"/><line x1="59.4" y1="676.92" x2="61" y2="676.92" stroke="#1a1a1a" stroke-width="0.8"/><line x1="59.4" y1="672.74" x2="61" y2="672.74" stroke="#1a1a1a" stroke-width="0.8"/><line x1="59.4" y1="669.78" x2="61" y2="669.78" stroke="#1a1a1a" stroke-width="0.8"/><line x1="59.4" y1="667.48" x2="61" y2="667.48" stroke="#1a1a1a" stroke-width="0.8"/><line x1="59.4" y1="665.61" x2="61" y2="665.61" stroke="#1a1a1a" stroke-width="0.8"/><line x1="59.4" y1="664.02" x2="61" y2="664.02" stroke="#1a1a1a" stroke-width="0.8"/><line x1="59.4" y1="662.65" x2="61" y2="662.65" stroke="#1a1a1a" stroke-width="0.8"/><line x1="59.4" y1="661.43" x2="61" y2="661.43" stroke="#1a1a1a" stroke-width="0.8"/><line x1="57.8" y1="660.35" x2="61" y2="660.35" stroke="#1a1a1a" stroke-width="1.2"/><line x1="59.4" y1="653.22" x2="61" y2="653.22" stroke="#1a1a1a" stroke-width="0.8"/><line x1="59.4" y1="649.04" x2="61" y2="649.04" stroke="#1a1a1a" stroke-width="0.8"/><line x1="59.4" y1="646.08" x2="61" y2="646.08" stroke="#1a1a1a" stroke-width="0.8"/><line x1="59.4" y1="643.78" x2="61" y2="643.78" stroke="#1a1a1a" stroke-width="0.8"/><line x1="59.4" y1="641.91" x2="61" y2="641.91" stroke="#1a1a1a" stroke-width="0.8"/><line x1="59.4" y1="640.32" x2="61" y2="640.32" stroke="#1a1a1a" stroke-width="0.8"/><line x1="59.4" y1="638.95" x2="61" y2="638.95" stroke="#1a1a1a" stroke-width="0.8"/><line x1="59.4" y1="637.73" x2="61" y2="637.73" stroke="#1a1a1a" stroke-width="0.8"/><line x1="57.8" y1="636.65" x2="61" y2="636.65" stroke="#1a1a1a" stroke-width="1.2"/><line x1="59.4" y1="629.52" x2="61" y2="629.52" stroke="#1a1a1a" stroke-width="0.8"/><line x1="59.4" y1="625.34" x2="61" y2="625.34" stroke="#1a1a1a" stroke-width="0.8"/><line x1="59.4" y1="622.38" x2="61" y2="622.38" stroke="#1a1a1a" stroke-width="0.8"/><line x1="59.4" y1="620.08" x2="61" y2="620.08" stroke="#1a1a1a" stroke-width="0.8"/><line x1="59.4" y1="618.21" x2="61" y2="618.21" stroke="#1a1a1a" stroke-width="0.8"/><line x1="59.4" y1="616.62" x2="61" y2="616.62" stroke="#1a1a1a" stroke-width="0.8"/><line x1="59.4" y1="615.25" x2="61" y2="615.25" stroke="#1a1a1a" stroke-width="0.8"/><line x1="59.4" y1="614.03" x2="61" y2="614.03" stroke="#1a1a1a" stroke-width="0.8"/><line x1="57.8" y1="612.95" x2="61" y2="612.95" stroke="#1a1a1a" stroke-width="1.2"/><line x1="59.4" y1="605.82" x2="61" y2="605.82" stroke="#1a1a1a" stroke-width="0.8"/><line x1="59.4" y1="601.64" x2="61" y2="601.64" stroke="#1a1a1a" stroke-width="0.8"/><line x1="59.4" y1="598.68" x2="61" y2="598.68" stroke="#1a1a1a" stroke-width="0.8"/><line x1="59.4" y1="596.38" x2="61" y2="596.38" stroke="#1a1a1a" stroke-width="0.8"/><line x1="59.4" y1="594.51" x2="61" y2="594.51" stroke="#1a1a1a" stroke-width="0.8"/><line x1="59.4" y1="592.92" x2="61" y2="592.92" stroke="#1a1a1a" stroke-width="0.8"/><line x1="59.4" y1="591.55" x2="61" y2="591.55" stroke="#1a1a1a" stroke-width="0.8"/><line x1="59.4" y1="590.33" x2="61" y2="590.33" stroke="#1a1a1a" stroke-width="0.8"/><line x1="57.8" y1="589.25" x2="61" y2="589.25" stroke="#1a1a1a" stroke-width="1.2"/><line x1="61" y1="707.75" x2="61" y2="711" stroke="#1a1a1a" stroke-width="1.2"/><line x1="83.15" y1="707.75" x2="83.15" y2="711" stroke="#1a1a1a" stroke-width="1.2"/><line x1="105.3" y1="707.75" x2="105.3" y2="711" stroke="#1a1a1a" stroke-width="1.2"/><line x1="127.45" y1="707.75" x2="127.45" y2="711" stroke="#1a1a1a" stroke-width="1.2"/><line x1="149.6" y1="707.75" x2="149.6" y2="711" stroke="#1a1a1a" stroke-width="1.2"/><line x1="171.75" y1="707.75" x2="171.75" y2="711" stroke="#1a1a1a" stroke-width="1.2"/><line x1="193.9" y1="707.75" x2="193.9" y2="711" stroke="#1a1a1a" stroke-width="1.2"/><line x1="216.05" y1="707.75" x2="216.05" y2="711" stroke="#1a1a1a" stroke-width="1.2"/><line x1="238.2" y1="707.75" x2="238.2" y2="711" stroke="#1a1a1a" stroke-width="1.2"/><path d="M92.8 653.1 C102 648.2 115 644.6 137.3 641 S185 636.8 203.6 635.7" fill="none" stroke="#7a7a7a" stroke-width="1.4"/><path d="M91 645.4 C105 643.8 125 641.6 137.3 640.5 S185 635 203.6 633.3" fill="none" stroke="#111" stroke-width="1.4" stroke-dasharray="1.1 1.2"/><path d="M95.5 699.8 C95.65 697.77 95.95 691.97 96.4 687.6 C96.85 683.23 97.5 677.57 98.2 673.6 C98.9 669.63 98.97 666.83 100.6 663.8 C102.23 660.77 105.47 657.63 108 655.4 C110.53 653.17 110.92 652.53 115.8 650.4 C120.68 648.27 129.1 644.4 137.3 642.6 C145.5 640.8 153.95 640.37 165 639.6 C176.05 638.83 197.17 638.27 203.6 638" fill="none" stroke="#111" stroke-width="1.4" stroke-dasharray="1.1 1.2"/></g>
<g fill="#111"><circle cx="99.9" cy="37.3" r="0.95"/><circle cx="102.5" cy="37.3" r="0.95"/><circle cx="146.6" cy="37.3" r="0.95"/><circle cx="149.2" cy="37.3" r="0.95"/><circle cx="151.8" cy="37.3" r="0.95"/><circle cx="170.5" cy="25.5" r="0.95"/><circle cx="173.1" cy="25.5" r="0.95"/><circle cx="366.9" cy="32.5" r="0.95"/><circle cx="369.5" cy="32.5" r="0.95"/><circle cx="416.1" cy="32.5" r="0.95"/><circle cx="418.7" cy="32.5" r="0.95"/><circle cx="421.3" cy="32.5" r="0.95"/></g>
<g><text x="54" y="158.55" font-size="8.5" text-anchor="end" letter-spacing="0.3">1</text><text x="54" y="127.06" font-size="8.5" text-anchor="end" letter-spacing="0.3">10</text><text x="54" y="95.57" font-size="8.5" text-anchor="end" letter-spacing="0.3">100</text><text x="54" y="64.08" font-size="8.5" text-anchor="end" letter-spacing="0.3">1000</text><text x="54" y="32.59" font-size="8.5" text-anchor="end" letter-spacing="0.3">10000</text><text x="84.5" y="170" font-size="8.8" text-anchor="middle">A</text><text x="131.8" y="170" font-size="8.8" text-anchor="middle">B</text><text x="179" y="170" font-size="8.8" text-anchor="middle">O</text><text x="226.4" y="170" font-size="8.8" text-anchor="middle">AB</text><text x="313" y="159.8" font-size="8.5" text-anchor="end" letter-spacing="0.3">1</text><text x="313" y="134.3" font-size="8.5" text-anchor="end" letter-spacing="0.3">10</text><text x="313" y="108.8" font-size="8.5" text-anchor="end" letter-spacing="0.3">100</text><text x="313" y="83.3" font-size="8.5" text-anchor="end" letter-spacing="0.3">1000</text><text x="313" y="57.8" font-size="8.5" text-anchor="end" letter-spacing="0.3">10000</text><text x="313" y="32.3" font-size="8.5" text-anchor="end" letter-spacing="0.3">100000</text><text x="343.8" y="171.3" font-size="8.8" text-anchor="middle">A</text><text x="391.8" y="171.3" font-size="8.8" text-anchor="middle">B</text><text x="439.6" y="171.3" font-size="8.8" text-anchor="middle">O</text><text x="487.5" y="171.3" font-size="8.8" text-anchor="middle">AB</text><text x="54" y="349.8" font-size="8.5" text-anchor="end" letter-spacing="0.3">1</text><text x="54" y="318.61" font-size="8.5" text-anchor="end" letter-spacing="0.3">10</text><text x="54" y="287.42" font-size="8.5" text-anchor="end" letter-spacing="0.3">100</text><text x="54" y="256.23" font-size="8.5" text-anchor="end" letter-spacing="0.3">1000</text><text x="54" y="225.04" font-size="8.5" text-anchor="end" letter-spacing="0.3">10000</text><text x="92.4" y="361" font-size="8.8" text-anchor="middle">F</text><text x="154.6" y="361" font-size="8.8" text-anchor="middle">M</text><text x="124.75" y="228.5" font-size="8.5" text-anchor="middle">NS</text><text x="313.25" y="349.8" font-size="8.5" text-anchor="end" letter-spacing="0.3">1</text><text x="313.25" y="324.6" font-size="8.5" text-anchor="end" letter-spacing="0.3">10</text><text x="313.25" y="299.4" font-size="8.5" text-anchor="end" letter-spacing="0.3">100</text><text x="313.25" y="274.2" font-size="8.5" text-anchor="end" letter-spacing="0.3">1000</text><text x="313.25" y="249" font-size="8.5" text-anchor="end" letter-spacing="0.3">10000</text><text x="313.25" y="223.8" font-size="8.5" text-anchor="end" letter-spacing="0.3">100000</text><text x="351.5" y="361" font-size="8.8" text-anchor="middle">F</text><text x="414.8" y="361" font-size="8.8" text-anchor="middle">M</text><text x="381.3" y="223.5" font-size="8.5" text-anchor="middle">NS</text><text x="54" y="528.8" font-size="8.5" text-anchor="end" letter-spacing="0.3">0.1</text><text x="54" y="509.63" font-size="8.5" text-anchor="end" letter-spacing="0.3">1</text><text x="54" y="490.46" font-size="8.5" text-anchor="end" letter-spacing="0.3">10</text><text x="54" y="471.29" font-size="8.5" text-anchor="end" letter-spacing="0.3">100</text><text x="54" y="452.12" font-size="8.5" text-anchor="end" letter-spacing="0.3">1000</text><text x="54" y="432.95" font-size="8.5" text-anchor="end" letter-spacing="0.3">10000</text><text x="54" y="413.78" font-size="8.5" text-anchor="end" letter-spacing="0.3">100000</text><text x="73.5" y="539.7" font-size="8.5" text-anchor="middle">20</text><text x="98.2" y="539.7" font-size="8.5" text-anchor="middle">30</text><text x="122.9" y="539.7" font-size="8.5" text-anchor="middle">40</text><text x="147.6" y="539.7" font-size="8.5" text-anchor="middle">50</text><text x="172.3" y="539.7" font-size="8.5" text-anchor="middle">60</text><text x="197" y="539.7" font-size="8.5" text-anchor="middle">70</text><text x="221.7" y="539.7" font-size="8.5" text-anchor="middle">80</text><text x="210.5" y="484.3" font-size="7.4" text-anchor="middle" stroke-width="0">NS</text><text x="313.25" y="528.8" font-size="8.5" text-anchor="end" letter-spacing="0.3">0.1</text><text x="313.25" y="509.63" font-size="8.5" text-anchor="end" letter-spacing="0.3">1</text><text x="313.25" y="490.46" font-size="8.5" text-anchor="end" letter-spacing="0.3">10</text><text x="313.25" y="471.29" font-size="8.5" text-anchor="end" letter-spacing="0.3">100</text><text x="313.25" y="452.12" font-size="8.5" text-anchor="end" letter-spacing="0.3">1000</text><text x="313.25" y="432.95" font-size="8.5" text-anchor="end" letter-spacing="0.3">10000</text><text x="313.25" y="413.78" font-size="8.5" text-anchor="end" letter-spacing="0.3">100000</text><text x="333.4" y="539.7" font-size="8.5" text-anchor="middle">20</text><text x="359.67" y="539.7" font-size="8.5" text-anchor="middle">30</text><text x="385.94" y="539.7" font-size="8.5" text-anchor="middle">40</text><text x="412.21" y="539.7" font-size="8.5" text-anchor="middle">50</text><text x="438.48" y="539.7" font-size="8.5" text-anchor="middle">60</text><text x="464.75" y="539.7" font-size="8.5" text-anchor="middle">70</text><text x="491.02" y="539.7" font-size="8.5" text-anchor="middle">80</text><text x="478.2" y="456" font-size="7.4" text-anchor="middle" stroke-width="0">NS</text><text x="54" y="711.05" font-size="8.5" text-anchor="end" letter-spacing="0.3">1</text><text x="54" y="687.35" font-size="8.5" text-anchor="end" letter-spacing="0.3">10</text><text x="54" y="663.65" font-size="8.5" text-anchor="end" letter-spacing="0.3">100</text><text x="54" y="639.95" font-size="8.5" text-anchor="end" letter-spacing="0.3">1000</text><text x="54" y="616.25" font-size="8.5" text-anchor="end" letter-spacing="0.3">10000</text><text x="54" y="592.55" font-size="8.5" text-anchor="end" letter-spacing="0.3">100000</text><text x="61" y="722.5" font-size="8.5" text-anchor="middle">3.0</text><text x="83.15" y="722.5" font-size="8.5" text-anchor="middle">3.5</text><text x="105.3" y="722.5" font-size="8.5" text-anchor="middle">4.0</text><text x="127.45" y="722.5" font-size="8.5" text-anchor="middle">4.5</text><text x="149.6" y="722.5" font-size="8.5" text-anchor="middle">5.0</text><text x="171.75" y="722.5" font-size="8.5" text-anchor="middle">5.5</text><text x="193.9" y="722.5" font-size="8.5" text-anchor="middle">6.0</text><text x="216.05" y="722.5" font-size="8.5" text-anchor="middle">6.5</text><text x="238.2" y="722.5" font-size="8.5" text-anchor="middle">7.0</text><text x="229.3" y="640" font-size="7.6" text-anchor="middle" stroke-width="0">P&lt;0,0001</text><text x="155.9" y="184.2" font-size="10.4" text-anchor="middle" textLength="59.5" lengthAdjust="spacingAndGlyphs" word-spacing="3" class="t">Donor blood group</text><text x="416" y="185.1" font-size="10.4" text-anchor="middle" textLength="59.3" lengthAdjust="spacingAndGlyphs" word-spacing="3" class="t">Donor blood group</text><text x="123.75" y="375.7" font-size="10.4" text-anchor="middle" textLength="32.4" lengthAdjust="spacingAndGlyphs" word-spacing="3" class="t">Donor sex</text><text x="383.75" y="376" font-size="10.4" text-anchor="middle" textLength="32.4" lengthAdjust="spacingAndGlyphs" word-spacing="3" class="t">Donor sex</text><text x="143.15" y="553.9" font-size="10.4" text-anchor="middle" textLength="74.6" lengthAdjust="spacingAndGlyphs" word-spacing="3" class="t">Donor age (Y) for male</text><text x="408.2" y="554.3" font-size="10.4" text-anchor="middle" textLength="81.7" lengthAdjust="spacingAndGlyphs" word-spacing="3" class="t">Donor age (Y) for female</text><text x="94.2" y="736.3" font-size="10.4" textLength="114" lengthAdjust="spacingAndGlyphs" word-spacing="3" class="t">Donor erythrocyte count (x10<tspan dy="-3.6" font-size="7.8">9</tspan><tspan dy="3.6">/mL)</tspan></text><text transform="translate(23.3 90.6) rotate(-90)" x="0" y="0" font-size="10.5" text-anchor="middle" textLength="28.8" lengthAdjust="spacingAndGlyphs" class="t2">PEVs/μL</text><text transform="translate(277 91) rotate(-90)" x="0" y="0" font-size="10.5" text-anchor="middle" textLength="28.1" lengthAdjust="spacingAndGlyphs" class="t2">EEVs/μL</text><text transform="translate(23.4 282.75) rotate(-90)" x="0" y="0" font-size="10.5" text-anchor="middle" textLength="29.3" lengthAdjust="spacingAndGlyphs" class="t2">PEVs/μL</text><text transform="translate(277 282.1) rotate(-90)" x="0" y="0" font-size="10.5" text-anchor="middle" textLength="28.2" lengthAdjust="spacingAndGlyphs" class="t2">EEVs/μL</text><text transform="translate(18.3 466.3) rotate(-90)" x="0" y="0" font-size="10.5" text-anchor="middle" textLength="28.9" lengthAdjust="spacingAndGlyphs" class="t2">PEVs/μL</text><text transform="translate(277 466.25) rotate(-90)" x="0" y="0" font-size="10.5" text-anchor="middle" textLength="29.5" lengthAdjust="spacingAndGlyphs" class="t2">EEVs/μL</text><text transform="translate(17.6 646.6) rotate(-90)" x="0" y="0" font-size="10.5" text-anchor="middle" textLength="29" lengthAdjust="spacingAndGlyphs" class="t2">EEVs/μL</text><text x="8.1" y="17.8" font-size="12.6" font-weight="bold" stroke="#000" stroke-width="0.35" fill="#000">A</text><text x="8.75" y="209.5" font-size="12.6" font-weight="bold" stroke="#000" stroke-width="0.35" fill="#000">B</text><text x="8.75" y="399.5" font-size="12.6" font-weight="bold" stroke="#000" stroke-width="0.35" fill="#000">C</text><text x="8.75" y="578" font-size="12.6" font-weight="bold" stroke="#000" stroke-width="0.35" fill="#000">D</text></g>
<path d="M0.5 0.5H519.5V745.2H0.5Z" fill="none" stroke="#000" stroke-width="1.3"/>
</svg>
</body></html>
